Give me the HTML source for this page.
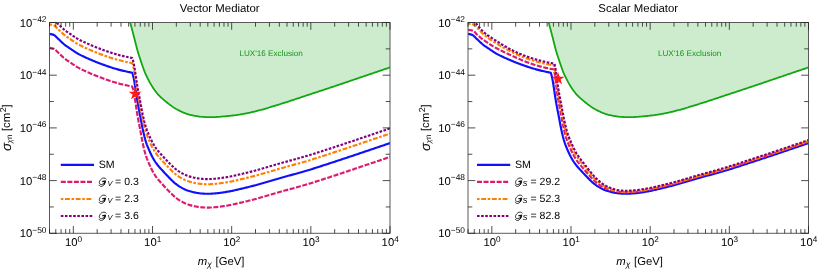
<!DOCTYPE html>
<html><head><meta charset="utf-8"><title>plot</title>
<style>html,body{margin:0;padding:0;background:#fff;}svg{display:block;will-change:transform;text-rendering:geometricPrecision;}</style>
</head><body>
<svg width="830" height="270" viewBox="0 0 830 270">
<rect width="830" height="270" fill="#fff"/>
<defs>
<clipPath id="c1"><rect x="49.5" y="22.5" width="340.5" height="210.8"/></clipPath>
<clipPath id="c2"><rect x="468.0" y="22.5" width="340.5" height="210.8"/></clipPath>
</defs>
<g font-family="Liberation Sans, sans-serif" fill="#000">
<g clip-path="url(#c1)">
<path d="M130.20,22.40 L131.07,25.71 L131.94,29.04 L132.81,32.37 L133.68,35.71 L134.54,39.06 L135.41,42.51 L136.28,46.00 L137.15,49.34 L138.02,52.38 L138.89,55.17 L139.76,57.81 L140.63,60.37 L141.50,62.94 L142.36,65.49 L143.23,67.97 L144.10,70.33 L144.97,72.53 L145.84,74.53 L146.71,76.42 L147.58,78.23 L148.45,79.95 L149.32,81.59 L150.18,83.15 L151.05,84.63 L151.92,86.04 L152.79,87.40 L153.66,88.71 L154.53,89.96 L155.40,91.15 L156.27,92.28 L157.14,93.34 L158.00,94.34 L158.87,95.29 L159.74,96.19 L160.61,97.04 L161.48,97.86 L162.35,98.65 L163.22,99.40 L164.09,100.14 L164.96,100.86 L165.82,101.57 L166.69,102.28 L167.56,102.98 L168.43,103.66 L169.30,104.34 L170.17,105.00 L171.04,105.64 L171.91,106.27 L172.78,106.87 L173.64,107.46 L174.51,108.02 L175.38,108.56 L176.25,109.07 L177.12,109.55 L177.99,110.00 L178.86,110.43 L179.73,110.86 L180.60,111.28 L181.46,111.69 L182.33,112.08 L183.20,112.46 L184.07,112.83 L184.94,113.18 L185.81,113.51 L186.68,113.82 L187.55,114.11 L188.42,114.38 L189.28,114.63 L190.15,114.84 L191.02,115.04 L191.89,115.23 L192.76,115.42 L193.63,115.59 L194.50,115.77 L195.37,115.93 L196.24,116.08 L197.11,116.23 L197.97,116.36 L198.84,116.49 L199.71,116.60 L200.58,116.70 L201.45,116.78 L202.32,116.85 L203.19,116.91 L204.06,116.96 L204.93,117.01 L205.79,117.06 L206.66,117.10 L207.53,117.14 L208.40,117.17 L209.27,117.19 L210.14,117.20 L211.01,117.20 L211.88,117.19 L212.75,117.17 L213.61,117.14 L214.48,117.11 L215.35,117.07 L216.22,117.02 L217.09,116.97 L217.96,116.91 L218.83,116.84 L219.70,116.78 L220.57,116.70 L221.43,116.63 L222.30,116.55 L223.17,116.47 L224.04,116.39 L224.91,116.31 L225.78,116.23 L226.65,116.14 L227.52,116.06 L228.39,115.98 L229.25,115.90 L230.12,115.81 L230.99,115.71 L231.86,115.61 L232.73,115.51 L233.60,115.40 L234.47,115.28 L235.34,115.17 L236.21,115.04 L237.07,114.92 L237.94,114.79 L238.81,114.65 L239.68,114.52 L240.55,114.38 L241.42,114.24 L242.29,114.09 L243.16,113.94 L244.03,113.80 L244.89,113.64 L245.76,113.48 L246.63,113.31 L247.50,113.14 L248.37,112.95 L249.24,112.77 L250.11,112.58 L250.98,112.38 L251.85,112.18 L252.71,111.97 L253.58,111.76 L254.45,111.55 L255.32,111.34 L256.19,111.13 L257.06,110.91 L257.93,110.69 L258.80,110.46 L259.67,110.23 L260.53,110.00 L261.40,109.76 L262.27,109.52 L263.14,109.28 L264.01,109.03 L264.88,108.78 L265.75,108.53 L266.62,108.27 L267.49,108.02 L268.35,107.76 L269.22,107.49 L270.09,107.23 L270.96,106.97 L271.83,106.70 L272.70,106.43 L273.57,106.16 L274.44,105.89 L275.31,105.62 L276.17,105.35 L277.04,105.08 L277.91,104.81 L278.78,104.54 L279.65,104.27 L280.52,104.00 L281.39,103.73 L282.26,103.46 L283.13,103.19 L283.99,102.91 L284.86,102.64 L285.73,102.36 L286.60,102.08 L287.47,101.80 L288.34,101.52 L289.21,101.24 L290.08,100.96 L290.95,100.67 L291.81,100.39 L292.68,100.10 L293.55,99.81 L294.42,99.52 L295.29,99.23 L296.16,98.94 L297.03,98.65 L297.90,98.36 L298.77,98.07 L299.63,97.78 L300.50,97.49 L301.37,97.20 L302.24,96.91 L303.11,96.62 L303.98,96.33 L304.85,96.04 L305.72,95.76 L306.59,95.47 L307.45,95.18 L308.32,94.89 L309.19,94.61 L310.06,94.32 L310.93,94.04 L311.80,93.75 L312.67,93.46 L313.54,93.18 L314.41,92.89 L315.27,92.61 L316.14,92.32 L317.01,92.03 L317.88,91.75 L318.75,91.46 L319.62,91.18 L320.49,90.89 L321.36,90.60 L322.23,90.31 L323.09,90.03 L323.96,89.74 L324.83,89.45 L325.70,89.16 L326.57,88.88 L327.44,88.59 L328.31,88.30 L329.18,88.01 L330.05,87.72 L330.92,87.43 L331.78,87.14 L332.65,86.85 L333.52,86.56 L334.39,86.27 L335.26,85.98 L336.13,85.68 L337.00,85.39 L337.87,85.10 L338.74,84.80 L339.60,84.51 L340.47,84.22 L341.34,83.92 L342.21,83.62 L343.08,83.33 L343.95,83.03 L344.82,82.74 L345.69,82.44 L346.56,82.15 L347.42,81.85 L348.29,81.55 L349.16,81.26 L350.03,80.96 L350.90,80.66 L351.77,80.37 L352.64,80.07 L353.51,79.77 L354.38,79.48 L355.24,79.18 L356.11,78.89 L356.98,78.59 L357.85,78.29 L358.72,78.00 L359.59,77.70 L360.46,77.41 L361.33,77.11 L362.20,76.82 L363.06,76.52 L363.93,76.23 L364.80,75.94 L365.67,75.64 L366.54,75.35 L367.41,75.05 L368.28,74.76 L369.15,74.46 L370.02,74.17 L370.88,73.87 L371.75,73.58 L372.62,73.28 L373.49,72.99 L374.36,72.70 L375.23,72.40 L376.10,72.11 L376.97,71.81 L377.84,71.52 L378.70,71.22 L379.57,70.93 L380.44,70.64 L381.31,70.34 L382.18,70.05 L383.05,69.75 L383.92,69.46 L384.79,69.16 L385.66,68.87 L386.52,68.58 L387.39,68.28 L388.26,67.99 L389.13,67.69 L390.00,67.40 L390.0,67.40 L390.0,22.5 L130.20,22.5 Z" fill="#cdeccd" stroke="none"/>
<path d="M130.20,22.40 L131.07,25.71 L131.94,29.04 L132.81,32.37 L133.68,35.71 L134.54,39.06 L135.41,42.51 L136.28,46.00 L137.15,49.34 L138.02,52.38 L138.89,55.17 L139.76,57.81 L140.63,60.37 L141.50,62.94 L142.36,65.49 L143.23,67.97 L144.10,70.33 L144.97,72.53 L145.84,74.53 L146.71,76.42 L147.58,78.23 L148.45,79.95 L149.32,81.59 L150.18,83.15 L151.05,84.63 L151.92,86.04 L152.79,87.40 L153.66,88.71 L154.53,89.96 L155.40,91.15 L156.27,92.28 L157.14,93.34 L158.00,94.34 L158.87,95.29 L159.74,96.19 L160.61,97.04 L161.48,97.86 L162.35,98.65 L163.22,99.40 L164.09,100.14 L164.96,100.86 L165.82,101.57 L166.69,102.28 L167.56,102.98 L168.43,103.66 L169.30,104.34 L170.17,105.00 L171.04,105.64 L171.91,106.27 L172.78,106.87 L173.64,107.46 L174.51,108.02 L175.38,108.56 L176.25,109.07 L177.12,109.55 L177.99,110.00 L178.86,110.43 L179.73,110.86 L180.60,111.28 L181.46,111.69 L182.33,112.08 L183.20,112.46 L184.07,112.83 L184.94,113.18 L185.81,113.51 L186.68,113.82 L187.55,114.11 L188.42,114.38 L189.28,114.63 L190.15,114.84 L191.02,115.04 L191.89,115.23 L192.76,115.42 L193.63,115.59 L194.50,115.77 L195.37,115.93 L196.24,116.08 L197.11,116.23 L197.97,116.36 L198.84,116.49 L199.71,116.60 L200.58,116.70 L201.45,116.78 L202.32,116.85 L203.19,116.91 L204.06,116.96 L204.93,117.01 L205.79,117.06 L206.66,117.10 L207.53,117.14 L208.40,117.17 L209.27,117.19 L210.14,117.20 L211.01,117.20 L211.88,117.19 L212.75,117.17 L213.61,117.14 L214.48,117.11 L215.35,117.07 L216.22,117.02 L217.09,116.97 L217.96,116.91 L218.83,116.84 L219.70,116.78 L220.57,116.70 L221.43,116.63 L222.30,116.55 L223.17,116.47 L224.04,116.39 L224.91,116.31 L225.78,116.23 L226.65,116.14 L227.52,116.06 L228.39,115.98 L229.25,115.90 L230.12,115.81 L230.99,115.71 L231.86,115.61 L232.73,115.51 L233.60,115.40 L234.47,115.28 L235.34,115.17 L236.21,115.04 L237.07,114.92 L237.94,114.79 L238.81,114.65 L239.68,114.52 L240.55,114.38 L241.42,114.24 L242.29,114.09 L243.16,113.94 L244.03,113.80 L244.89,113.64 L245.76,113.48 L246.63,113.31 L247.50,113.14 L248.37,112.95 L249.24,112.77 L250.11,112.58 L250.98,112.38 L251.85,112.18 L252.71,111.97 L253.58,111.76 L254.45,111.55 L255.32,111.34 L256.19,111.13 L257.06,110.91 L257.93,110.69 L258.80,110.46 L259.67,110.23 L260.53,110.00 L261.40,109.76 L262.27,109.52 L263.14,109.28 L264.01,109.03 L264.88,108.78 L265.75,108.53 L266.62,108.27 L267.49,108.02 L268.35,107.76 L269.22,107.49 L270.09,107.23 L270.96,106.97 L271.83,106.70 L272.70,106.43 L273.57,106.16 L274.44,105.89 L275.31,105.62 L276.17,105.35 L277.04,105.08 L277.91,104.81 L278.78,104.54 L279.65,104.27 L280.52,104.00 L281.39,103.73 L282.26,103.46 L283.13,103.19 L283.99,102.91 L284.86,102.64 L285.73,102.36 L286.60,102.08 L287.47,101.80 L288.34,101.52 L289.21,101.24 L290.08,100.96 L290.95,100.67 L291.81,100.39 L292.68,100.10 L293.55,99.81 L294.42,99.52 L295.29,99.23 L296.16,98.94 L297.03,98.65 L297.90,98.36 L298.77,98.07 L299.63,97.78 L300.50,97.49 L301.37,97.20 L302.24,96.91 L303.11,96.62 L303.98,96.33 L304.85,96.04 L305.72,95.76 L306.59,95.47 L307.45,95.18 L308.32,94.89 L309.19,94.61 L310.06,94.32 L310.93,94.04 L311.80,93.75 L312.67,93.46 L313.54,93.18 L314.41,92.89 L315.27,92.61 L316.14,92.32 L317.01,92.03 L317.88,91.75 L318.75,91.46 L319.62,91.18 L320.49,90.89 L321.36,90.60 L322.23,90.31 L323.09,90.03 L323.96,89.74 L324.83,89.45 L325.70,89.16 L326.57,88.88 L327.44,88.59 L328.31,88.30 L329.18,88.01 L330.05,87.72 L330.92,87.43 L331.78,87.14 L332.65,86.85 L333.52,86.56 L334.39,86.27 L335.26,85.98 L336.13,85.68 L337.00,85.39 L337.87,85.10 L338.74,84.80 L339.60,84.51 L340.47,84.22 L341.34,83.92 L342.21,83.62 L343.08,83.33 L343.95,83.03 L344.82,82.74 L345.69,82.44 L346.56,82.15 L347.42,81.85 L348.29,81.55 L349.16,81.26 L350.03,80.96 L350.90,80.66 L351.77,80.37 L352.64,80.07 L353.51,79.77 L354.38,79.48 L355.24,79.18 L356.11,78.89 L356.98,78.59 L357.85,78.29 L358.72,78.00 L359.59,77.70 L360.46,77.41 L361.33,77.11 L362.20,76.82 L363.06,76.52 L363.93,76.23 L364.80,75.94 L365.67,75.64 L366.54,75.35 L367.41,75.05 L368.28,74.76 L369.15,74.46 L370.02,74.17 L370.88,73.87 L371.75,73.58 L372.62,73.28 L373.49,72.99 L374.36,72.70 L375.23,72.40 L376.10,72.11 L376.97,71.81 L377.84,71.52 L378.70,71.22 L379.57,70.93 L380.44,70.64 L381.31,70.34 L382.18,70.05 L383.05,69.75 L383.92,69.46 L384.79,69.16 L385.66,68.87 L386.52,68.58 L387.39,68.28 L388.26,67.99 L389.13,67.69 L390.00,67.40" fill="none" stroke="#12a612" stroke-width="1.8"/>
<path d="M49.50,33.90 L52.00,34.40 L53.80,34.90 L54.60,35.40 L55.58,36.23 L56.57,37.14 L57.55,38.15 L58.53,39.14 L59.52,40.08 L60.50,41.01 L61.48,41.94 L62.47,42.84 L63.45,43.70 L64.44,44.53 L65.42,45.30 L66.40,46.03 L67.39,46.73 L68.37,47.41 L69.35,48.07 L70.34,48.72 L71.32,49.38 L72.30,50.05 L73.29,50.72 L74.27,51.39 L75.25,52.04 L76.24,52.67 L77.22,53.27 L78.21,53.82 L79.19,54.36 L80.17,54.88 L81.16,55.38 L82.14,55.86 L83.12,56.34 L84.11,56.80 L85.09,57.26 L86.07,57.70 L87.06,58.14 L88.04,58.57 L89.02,59.00 L90.01,59.43 L90.99,59.85 L91.97,60.27 L92.96,60.69 L93.94,61.10 L94.93,61.50 L95.91,61.90 L96.89,62.29 L97.88,62.67 L98.86,63.05 L99.84,63.43 L100.83,63.80 L101.81,64.17 L102.79,64.53 L103.78,64.88 L104.76,65.23 L105.74,65.58 L106.73,65.93 L107.71,66.27 L108.69,66.61 L109.68,66.95 L110.66,67.27 L111.65,67.59 L112.63,67.91 L113.61,68.21 L114.60,68.51 L115.58,68.79 L116.56,69.07 L117.55,69.35 L118.53,69.61 L119.51,69.87 L120.50,70.12 L121.48,70.37 L122.46,70.61 L123.45,70.84 L124.43,71.07 L125.42,71.29 L126.40,71.51 L127.38,71.72 L128.37,71.93 L129.35,72.13 L130.33,72.33 L131.32,72.52 L132.30,72.70 L133.16,75.69 L134.02,79.62 L134.89,84.77 L135.75,90.45 L136.61,96.27 L137.47,101.58 L138.33,106.33 L139.19,110.81 L140.06,115.23 L140.92,119.81 L141.78,124.45 L142.64,128.83 L143.50,132.74 L144.37,136.36 L145.23,139.59 L146.09,142.34 L146.95,144.78 L147.81,147.00 L148.68,149.08 L149.54,151.08 L150.40,152.99 L151.26,154.80 L152.12,156.50 L152.98,158.10 L153.85,159.58 L154.71,160.97 L155.57,162.28 L156.43,163.50 L157.29,164.65 L158.16,165.72 L159.02,166.74 L159.88,167.71 L160.74,168.66 L161.60,169.61 L162.47,170.55 L163.33,171.50 L164.19,172.45 L165.05,173.39 L165.91,174.31 L166.77,175.22 L167.64,176.12 L168.50,177.00 L169.36,177.87 L170.22,178.75 L171.08,179.62 L171.95,180.47 L172.81,181.30 L173.67,182.10 L174.53,182.85 L175.39,183.55 L176.26,184.22 L177.12,184.87 L177.98,185.49 L178.84,186.08 L179.70,186.64 L180.56,187.17 L181.43,187.66 L182.29,188.13 L183.15,188.58 L184.01,189.01 L184.87,189.42 L185.74,189.80 L186.60,190.16 L187.46,190.48 L188.32,190.78 L189.18,191.05 L190.05,191.32 L190.91,191.57 L191.77,191.80 L192.63,192.02 L193.49,192.23 L194.35,192.41 L195.22,192.58 L196.08,192.74 L196.94,192.90 L197.80,193.04 L198.66,193.18 L199.53,193.30 L200.39,193.40 L201.25,193.48 L202.11,193.55 L202.97,193.61 L203.84,193.67 L204.70,193.72 L205.56,193.76 L206.42,193.79 L207.28,193.80 L208.14,193.80 L209.01,193.78 L209.87,193.75 L210.73,193.70 L211.59,193.65 L212.45,193.60 L213.32,193.54 L214.18,193.49 L215.04,193.42 L215.90,193.35 L216.76,193.27 L217.63,193.18 L218.49,193.08 L219.35,192.97 L220.21,192.85 L221.07,192.73 L221.93,192.61 L222.80,192.48 L223.66,192.34 L224.52,192.21 L225.38,192.07 L226.24,191.92 L227.11,191.78 L227.97,191.64 L228.83,191.49 L229.69,191.34 L230.55,191.18 L231.42,191.01 L232.28,190.83 L233.14,190.65 L234.00,190.46 L234.86,190.27 L235.72,190.07 L236.59,189.87 L237.45,189.67 L238.31,189.47 L239.17,189.26 L240.03,189.05 L240.90,188.84 L241.76,188.64 L242.62,188.43 L243.48,188.22 L244.34,188.02 L245.21,187.81 L246.07,187.61 L246.93,187.40 L247.79,187.19 L248.65,186.98 L249.51,186.76 L250.38,186.55 L251.24,186.33 L252.10,186.11 L252.96,185.89 L253.82,185.66 L254.69,185.44 L255.55,185.21 L256.41,184.98 L257.27,184.74 L258.13,184.50 L259.00,184.26 L259.86,184.02 L260.72,183.78 L261.58,183.53 L262.44,183.28 L263.30,183.03 L264.17,182.78 L265.03,182.53 L265.89,182.27 L266.75,182.02 L267.61,181.76 L268.48,181.50 L269.34,181.25 L270.20,180.99 L271.06,180.73 L271.92,180.48 L272.79,180.22 L273.65,179.97 L274.51,179.71 L275.37,179.46 L276.23,179.20 L277.09,178.95 L277.96,178.70 L278.82,178.45 L279.68,178.20 L280.54,177.96 L281.40,177.72 L282.27,177.47 L283.13,177.23 L283.99,177.00 L284.85,176.76 L285.71,176.52 L286.58,176.29 L287.44,176.05 L288.30,175.82 L289.16,175.58 L290.02,175.35 L290.88,175.11 L291.75,174.88 L292.61,174.65 L293.47,174.41 L294.33,174.18 L295.19,173.94 L296.06,173.71 L296.92,173.47 L297.78,173.23 L298.64,172.99 L299.50,172.75 L300.37,172.51 L301.23,172.27 L302.09,172.02 L302.95,171.77 L303.81,171.52 L304.67,171.27 L305.54,171.02 L306.40,170.76 L307.26,170.50 L308.12,170.24 L308.98,169.98 L309.85,169.71 L310.71,169.45 L311.57,169.18 L312.43,168.91 L313.29,168.63 L314.16,168.36 L315.02,168.09 L315.88,167.81 L316.74,167.53 L317.60,167.26 L318.46,166.98 L319.33,166.70 L320.19,166.42 L321.05,166.14 L321.91,165.86 L322.77,165.58 L323.64,165.31 L324.50,165.03 L325.36,164.75 L326.22,164.47 L327.08,164.19 L327.95,163.91 L328.81,163.63 L329.67,163.35 L330.53,163.07 L331.39,162.79 L332.25,162.51 L333.12,162.23 L333.98,161.94 L334.84,161.66 L335.70,161.38 L336.56,161.09 L337.43,160.81 L338.29,160.52 L339.15,160.24 L340.01,159.95 L340.87,159.67 L341.74,159.38 L342.60,159.10 L343.46,158.81 L344.32,158.52 L345.18,158.24 L346.04,157.95 L346.91,157.66 L347.77,157.38 L348.63,157.09 L349.49,156.80 L350.35,156.52 L351.22,156.23 L352.08,155.94 L352.94,155.65 L353.80,155.36 L354.66,155.07 L355.53,154.79 L356.39,154.50 L357.25,154.21 L358.11,153.92 L358.97,153.63 L359.83,153.34 L360.70,153.05 L361.56,152.75 L362.42,152.46 L363.28,152.17 L364.14,151.88 L365.01,151.59 L365.87,151.30 L366.73,151.01 L367.59,150.71 L368.45,150.42 L369.32,150.13 L370.18,149.84 L371.04,149.55 L371.90,149.25 L372.76,148.96 L373.62,148.67 L374.49,148.38 L375.35,148.09 L376.21,147.79 L377.07,147.50 L377.93,147.21 L378.80,146.92 L379.66,146.62 L380.52,146.33 L381.38,146.04 L382.24,145.74 L383.11,145.45 L383.97,145.16 L384.83,144.86 L385.69,144.57 L386.55,144.28 L387.41,143.98 L388.28,143.69 L389.14,143.39 L390.00,143.10" fill="none" stroke="#1010fb" stroke-width="2.15" stroke-linejoin="round"/>
<path d="M49.50,47.70 L52.00,48.20 L53.80,48.70 L54.60,49.20 L55.58,50.03 L56.57,50.94 L57.55,51.95 L58.53,52.94 L59.52,53.88 L60.50,54.81 L61.48,55.74 L62.47,56.64 L63.45,57.50 L64.44,58.33 L65.42,59.10 L66.40,59.83 L67.39,60.53 L68.37,61.21 L69.35,61.87 L70.34,62.52 L71.32,63.18 L72.30,63.85 L73.29,64.52 L74.27,65.19 L75.25,65.84 L76.24,66.47 L77.22,67.07 L78.21,67.62 L79.19,68.16 L80.17,68.68 L81.16,69.18 L82.14,69.66 L83.12,70.14 L84.11,70.60 L85.09,71.06 L86.07,71.50 L87.06,71.94 L88.04,72.37 L89.02,72.80 L90.01,73.23 L90.99,73.65 L91.97,74.07 L92.96,74.49 L93.94,74.90 L94.93,75.30 L95.91,75.70 L96.89,76.09 L97.88,76.47 L98.86,76.85 L99.84,77.23 L100.83,77.60 L101.81,77.97 L102.79,78.33 L103.78,78.68 L104.76,79.03 L105.74,79.38 L106.73,79.73 L107.71,80.07 L108.69,80.41 L109.68,80.75 L110.66,81.07 L111.65,81.39 L112.63,81.71 L113.61,82.01 L114.60,82.31 L115.58,82.59 L116.56,82.87 L117.55,83.15 L118.53,83.41 L119.51,83.67 L120.50,83.92 L121.48,84.17 L122.46,84.41 L123.45,84.64 L124.43,84.87 L125.42,85.09 L126.40,85.31 L127.38,85.52 L128.37,85.73 L129.35,85.93 L130.33,86.13 L131.32,86.32 L132.30,86.50 L133.16,89.49 L134.02,93.42 L134.89,98.57 L135.75,104.25 L136.61,110.07 L137.47,115.38 L138.33,120.13 L139.19,124.61 L140.06,129.03 L140.92,133.61 L141.78,138.25 L142.64,142.63 L143.50,146.54 L144.37,150.16 L145.23,153.39 L146.09,156.14 L146.95,158.58 L147.81,160.80 L148.68,162.88 L149.54,164.88 L150.40,166.79 L151.26,168.60 L152.12,170.30 L152.98,171.90 L153.85,173.38 L154.71,174.77 L155.57,176.08 L156.43,177.30 L157.29,178.45 L158.16,179.52 L159.02,180.54 L159.88,181.51 L160.74,182.46 L161.60,183.41 L162.47,184.35 L163.33,185.30 L164.19,186.25 L165.05,187.19 L165.91,188.11 L166.77,189.02 L167.64,189.92 L168.50,190.80 L169.36,191.67 L170.22,192.55 L171.08,193.42 L171.95,194.27 L172.81,195.10 L173.67,195.90 L174.53,196.65 L175.39,197.35 L176.26,198.02 L177.12,198.67 L177.98,199.29 L178.84,199.88 L179.70,200.44 L180.56,200.97 L181.43,201.46 L182.29,201.93 L183.15,202.38 L184.01,202.81 L184.87,203.22 L185.74,203.60 L186.60,203.96 L187.46,204.28 L188.32,204.58 L189.18,204.85 L190.05,205.12 L190.91,205.37 L191.77,205.60 L192.63,205.82 L193.49,206.03 L194.35,206.21 L195.22,206.38 L196.08,206.54 L196.94,206.70 L197.80,206.84 L198.66,206.98 L199.53,207.10 L200.39,207.20 L201.25,207.28 L202.11,207.35 L202.97,207.41 L203.84,207.47 L204.70,207.52 L205.56,207.56 L206.42,207.59 L207.28,207.60 L208.14,207.60 L209.01,207.58 L209.87,207.55 L210.73,207.50 L211.59,207.45 L212.45,207.40 L213.32,207.34 L214.18,207.29 L215.04,207.22 L215.90,207.15 L216.76,207.07 L217.63,206.98 L218.49,206.88 L219.35,206.77 L220.21,206.65 L221.07,206.53 L221.93,206.41 L222.80,206.28 L223.66,206.14 L224.52,206.01 L225.38,205.87 L226.24,205.72 L227.11,205.58 L227.97,205.44 L228.83,205.29 L229.69,205.14 L230.55,204.98 L231.42,204.81 L232.28,204.63 L233.14,204.45 L234.00,204.26 L234.86,204.07 L235.72,203.87 L236.59,203.67 L237.45,203.47 L238.31,203.27 L239.17,203.06 L240.03,202.85 L240.90,202.64 L241.76,202.44 L242.62,202.23 L243.48,202.02 L244.34,201.82 L245.21,201.61 L246.07,201.41 L246.93,201.20 L247.79,200.99 L248.65,200.78 L249.51,200.56 L250.38,200.35 L251.24,200.13 L252.10,199.91 L252.96,199.69 L253.82,199.46 L254.69,199.24 L255.55,199.01 L256.41,198.78 L257.27,198.54 L258.13,198.30 L259.00,198.06 L259.86,197.82 L260.72,197.58 L261.58,197.33 L262.44,197.08 L263.30,196.83 L264.17,196.58 L265.03,196.33 L265.89,196.07 L266.75,195.82 L267.61,195.56 L268.48,195.30 L269.34,195.05 L270.20,194.79 L271.06,194.53 L271.92,194.28 L272.79,194.02 L273.65,193.77 L274.51,193.51 L275.37,193.26 L276.23,193.00 L277.09,192.75 L277.96,192.50 L278.82,192.25 L279.68,192.00 L280.54,191.76 L281.40,191.52 L282.27,191.27 L283.13,191.03 L283.99,190.80 L284.85,190.56 L285.71,190.32 L286.58,190.09 L287.44,189.85 L288.30,189.62 L289.16,189.38 L290.02,189.15 L290.88,188.91 L291.75,188.68 L292.61,188.45 L293.47,188.21 L294.33,187.98 L295.19,187.74 L296.06,187.51 L296.92,187.27 L297.78,187.03 L298.64,186.79 L299.50,186.55 L300.37,186.31 L301.23,186.07 L302.09,185.82 L302.95,185.57 L303.81,185.32 L304.67,185.07 L305.54,184.82 L306.40,184.56 L307.26,184.30 L308.12,184.04 L308.98,183.78 L309.85,183.51 L310.71,183.25 L311.57,182.98 L312.43,182.71 L313.29,182.43 L314.16,182.16 L315.02,181.89 L315.88,181.61 L316.74,181.33 L317.60,181.06 L318.46,180.78 L319.33,180.50 L320.19,180.22 L321.05,179.94 L321.91,179.66 L322.77,179.38 L323.64,179.11 L324.50,178.83 L325.36,178.55 L326.22,178.27 L327.08,177.99 L327.95,177.71 L328.81,177.43 L329.67,177.15 L330.53,176.87 L331.39,176.59 L332.25,176.31 L333.12,176.03 L333.98,175.74 L334.84,175.46 L335.70,175.18 L336.56,174.89 L337.43,174.61 L338.29,174.32 L339.15,174.04 L340.01,173.75 L340.87,173.47 L341.74,173.18 L342.60,172.90 L343.46,172.61 L344.32,172.32 L345.18,172.04 L346.04,171.75 L346.91,171.46 L347.77,171.18 L348.63,170.89 L349.49,170.60 L350.35,170.32 L351.22,170.03 L352.08,169.74 L352.94,169.45 L353.80,169.16 L354.66,168.87 L355.53,168.59 L356.39,168.30 L357.25,168.01 L358.11,167.72 L358.97,167.43 L359.83,167.14 L360.70,166.85 L361.56,166.55 L362.42,166.26 L363.28,165.97 L364.14,165.68 L365.01,165.39 L365.87,165.10 L366.73,164.81 L367.59,164.51 L368.45,164.22 L369.32,163.93 L370.18,163.64 L371.04,163.35 L371.90,163.05 L372.76,162.76 L373.62,162.47 L374.49,162.18 L375.35,161.89 L376.21,161.59 L377.07,161.30 L377.93,161.01 L378.80,160.72 L379.66,160.42 L380.52,160.13 L381.38,159.84 L382.24,159.54 L383.11,159.25 L383.97,158.96 L384.83,158.66 L385.69,158.37 L386.55,158.08 L387.41,157.78 L388.28,157.49 L389.14,157.19 L390.00,156.90" fill="none" stroke="#dc1a6e" stroke-width="2.15" stroke-dasharray="5.0 1.55" stroke-linejoin="round"/>
<path d="M49.50,24.35 L52.00,24.85 L53.80,25.35 L54.60,25.85 L55.58,26.68 L56.57,27.59 L57.55,28.60 L58.53,29.59 L59.52,30.53 L60.50,31.46 L61.48,32.39 L62.47,33.29 L63.45,34.15 L64.44,34.98 L65.42,35.75 L66.40,36.48 L67.39,37.18 L68.37,37.86 L69.35,38.52 L70.34,39.17 L71.32,39.83 L72.30,40.50 L73.29,41.17 L74.27,41.84 L75.25,42.49 L76.24,43.12 L77.22,43.72 L78.21,44.27 L79.19,44.81 L80.17,45.33 L81.16,45.83 L82.14,46.31 L83.12,46.79 L84.11,47.25 L85.09,47.71 L86.07,48.15 L87.06,48.59 L88.04,49.02 L89.02,49.45 L90.01,49.88 L90.99,50.30 L91.97,50.72 L92.96,51.14 L93.94,51.55 L94.93,51.95 L95.91,52.35 L96.89,52.74 L97.88,53.12 L98.86,53.50 L99.84,53.88 L100.83,54.25 L101.81,54.62 L102.79,54.98 L103.78,55.33 L104.76,55.68 L105.74,56.03 L106.73,56.38 L107.71,56.72 L108.69,57.06 L109.68,57.40 L110.66,57.72 L111.65,58.04 L112.63,58.36 L113.61,58.66 L114.60,58.96 L115.58,59.24 L116.56,59.52 L117.55,59.80 L118.53,60.06 L119.51,60.32 L120.50,60.57 L121.48,60.82 L122.46,61.06 L123.45,61.29 L124.43,61.52 L125.42,61.74 L126.40,61.96 L127.38,62.17 L128.37,62.38 L129.35,62.58 L130.33,62.78 L131.32,62.97 L132.30,63.15 L133.16,66.14 L134.02,70.07 L134.89,75.22 L135.75,80.90 L136.61,86.72 L137.47,92.03 L138.33,96.78 L139.19,101.26 L140.06,105.68 L140.92,110.26 L141.78,114.90 L142.64,119.28 L143.50,123.19 L144.37,126.81 L145.23,130.04 L146.09,132.79 L146.95,135.23 L147.81,137.45 L148.68,139.53 L149.54,141.53 L150.40,143.44 L151.26,145.25 L152.12,146.95 L152.98,148.55 L153.85,150.03 L154.71,151.42 L155.57,152.73 L156.43,153.95 L157.29,155.10 L158.16,156.17 L159.02,157.19 L159.88,158.16 L160.74,159.11 L161.60,160.06 L162.47,161.00 L163.33,161.95 L164.19,162.90 L165.05,163.84 L165.91,164.76 L166.77,165.67 L167.64,166.57 L168.50,167.45 L169.36,168.32 L170.22,169.20 L171.08,170.07 L171.95,170.92 L172.81,171.75 L173.67,172.55 L174.53,173.30 L175.39,174.00 L176.26,174.67 L177.12,175.32 L177.98,175.94 L178.84,176.53 L179.70,177.09 L180.56,177.62 L181.43,178.11 L182.29,178.58 L183.15,179.03 L184.01,179.46 L184.87,179.87 L185.74,180.25 L186.60,180.61 L187.46,180.93 L188.32,181.23 L189.18,181.50 L190.05,181.77 L190.91,182.02 L191.77,182.25 L192.63,182.47 L193.49,182.68 L194.35,182.86 L195.22,183.03 L196.08,183.19 L196.94,183.35 L197.80,183.49 L198.66,183.63 L199.53,183.75 L200.39,183.85 L201.25,183.93 L202.11,184.00 L202.97,184.06 L203.84,184.12 L204.70,184.17 L205.56,184.21 L206.42,184.24 L207.28,184.25 L208.14,184.25 L209.01,184.23 L209.87,184.20 L210.73,184.15 L211.59,184.10 L212.45,184.05 L213.32,183.99 L214.18,183.94 L215.04,183.87 L215.90,183.80 L216.76,183.72 L217.63,183.63 L218.49,183.53 L219.35,183.42 L220.21,183.30 L221.07,183.18 L221.93,183.06 L222.80,182.93 L223.66,182.79 L224.52,182.66 L225.38,182.52 L226.24,182.37 L227.11,182.23 L227.97,182.09 L228.83,181.94 L229.69,181.79 L230.55,181.63 L231.42,181.46 L232.28,181.28 L233.14,181.10 L234.00,180.91 L234.86,180.72 L235.72,180.52 L236.59,180.32 L237.45,180.12 L238.31,179.92 L239.17,179.71 L240.03,179.50 L240.90,179.29 L241.76,179.09 L242.62,178.88 L243.48,178.67 L244.34,178.47 L245.21,178.26 L246.07,178.06 L246.93,177.85 L247.79,177.64 L248.65,177.43 L249.51,177.21 L250.38,177.00 L251.24,176.78 L252.10,176.56 L252.96,176.34 L253.82,176.11 L254.69,175.89 L255.55,175.66 L256.41,175.43 L257.27,175.19 L258.13,174.95 L259.00,174.71 L259.86,174.47 L260.72,174.23 L261.58,173.98 L262.44,173.73 L263.30,173.48 L264.17,173.23 L265.03,172.98 L265.89,172.72 L266.75,172.47 L267.61,172.21 L268.48,171.95 L269.34,171.70 L270.20,171.44 L271.06,171.18 L271.92,170.93 L272.79,170.67 L273.65,170.42 L274.51,170.16 L275.37,169.91 L276.23,169.65 L277.09,169.40 L277.96,169.15 L278.82,168.90 L279.68,168.65 L280.54,168.41 L281.40,168.17 L282.27,167.92 L283.13,167.68 L283.99,167.45 L284.85,167.21 L285.71,166.97 L286.58,166.74 L287.44,166.50 L288.30,166.27 L289.16,166.03 L290.02,165.80 L290.88,165.56 L291.75,165.33 L292.61,165.10 L293.47,164.86 L294.33,164.63 L295.19,164.39 L296.06,164.16 L296.92,163.92 L297.78,163.68 L298.64,163.44 L299.50,163.20 L300.37,162.96 L301.23,162.72 L302.09,162.47 L302.95,162.22 L303.81,161.97 L304.67,161.72 L305.54,161.47 L306.40,161.21 L307.26,160.95 L308.12,160.69 L308.98,160.43 L309.85,160.16 L310.71,159.90 L311.57,159.63 L312.43,159.36 L313.29,159.08 L314.16,158.81 L315.02,158.54 L315.88,158.26 L316.74,157.98 L317.60,157.71 L318.46,157.43 L319.33,157.15 L320.19,156.87 L321.05,156.59 L321.91,156.31 L322.77,156.03 L323.64,155.76 L324.50,155.48 L325.36,155.20 L326.22,154.92 L327.08,154.64 L327.95,154.36 L328.81,154.08 L329.67,153.80 L330.53,153.52 L331.39,153.24 L332.25,152.96 L333.12,152.68 L333.98,152.39 L334.84,152.11 L335.70,151.83 L336.56,151.54 L337.43,151.26 L338.29,150.97 L339.15,150.69 L340.01,150.40 L340.87,150.12 L341.74,149.83 L342.60,149.55 L343.46,149.26 L344.32,148.97 L345.18,148.69 L346.04,148.40 L346.91,148.11 L347.77,147.83 L348.63,147.54 L349.49,147.25 L350.35,146.97 L351.22,146.68 L352.08,146.39 L352.94,146.10 L353.80,145.81 L354.66,145.52 L355.53,145.24 L356.39,144.95 L357.25,144.66 L358.11,144.37 L358.97,144.08 L359.83,143.79 L360.70,143.50 L361.56,143.20 L362.42,142.91 L363.28,142.62 L364.14,142.33 L365.01,142.04 L365.87,141.75 L366.73,141.46 L367.59,141.16 L368.45,140.87 L369.32,140.58 L370.18,140.29 L371.04,140.00 L371.90,139.70 L372.76,139.41 L373.62,139.12 L374.49,138.83 L375.35,138.54 L376.21,138.24 L377.07,137.95 L377.93,137.66 L378.80,137.37 L379.66,137.07 L380.52,136.78 L381.38,136.49 L382.24,136.19 L383.11,135.90 L383.97,135.61 L384.83,135.31 L385.69,135.02 L386.55,134.73 L387.41,134.43 L388.28,134.14 L389.14,133.84 L390.00,133.55" fill="none" stroke="#ff8000" stroke-width="2.15" stroke-dasharray="2.6 1.6 4.9 1.6" stroke-linejoin="round"/>
<path d="M49.50,19.20 L52.00,19.70 L53.80,20.20 L54.60,20.70 L55.58,21.53 L56.57,22.44 L57.55,23.45 L58.53,24.44 L59.52,25.38 L60.50,26.31 L61.48,27.24 L62.47,28.14 L63.45,29.00 L64.44,29.83 L65.42,30.60 L66.40,31.33 L67.39,32.03 L68.37,32.71 L69.35,33.37 L70.34,34.02 L71.32,34.68 L72.30,35.35 L73.29,36.02 L74.27,36.69 L75.25,37.34 L76.24,37.97 L77.22,38.57 L78.21,39.12 L79.19,39.66 L80.17,40.18 L81.16,40.68 L82.14,41.16 L83.12,41.64 L84.11,42.10 L85.09,42.56 L86.07,43.00 L87.06,43.44 L88.04,43.87 L89.02,44.30 L90.01,44.73 L90.99,45.15 L91.97,45.57 L92.96,45.99 L93.94,46.40 L94.93,46.80 L95.91,47.20 L96.89,47.59 L97.88,47.97 L98.86,48.35 L99.84,48.73 L100.83,49.10 L101.81,49.47 L102.79,49.83 L103.78,50.18 L104.76,50.53 L105.74,50.88 L106.73,51.23 L107.71,51.57 L108.69,51.91 L109.68,52.25 L110.66,52.57 L111.65,52.89 L112.63,53.21 L113.61,53.51 L114.60,53.81 L115.58,54.09 L116.56,54.37 L117.55,54.65 L118.53,54.91 L119.51,55.17 L120.50,55.42 L121.48,55.67 L122.46,55.91 L123.45,56.14 L124.43,56.37 L125.42,56.59 L126.40,56.81 L127.38,57.02 L128.37,57.23 L129.35,57.43 L130.33,57.63 L131.32,57.82 L132.30,58.00 L133.16,60.99 L134.02,64.92 L134.89,70.07 L135.75,75.75 L136.61,81.57 L137.47,86.88 L138.33,91.63 L139.19,96.11 L140.06,100.53 L140.92,105.11 L141.78,109.75 L142.64,114.13 L143.50,118.04 L144.37,121.66 L145.23,124.89 L146.09,127.64 L146.95,130.08 L147.81,132.30 L148.68,134.38 L149.54,136.38 L150.40,138.29 L151.26,140.10 L152.12,141.80 L152.98,143.40 L153.85,144.88 L154.71,146.27 L155.57,147.58 L156.43,148.80 L157.29,149.95 L158.16,151.02 L159.02,152.04 L159.88,153.01 L160.74,153.96 L161.60,154.91 L162.47,155.85 L163.33,156.80 L164.19,157.75 L165.05,158.69 L165.91,159.61 L166.77,160.52 L167.64,161.42 L168.50,162.30 L169.36,163.17 L170.22,164.05 L171.08,164.92 L171.95,165.77 L172.81,166.60 L173.67,167.40 L174.53,168.15 L175.39,168.85 L176.26,169.52 L177.12,170.17 L177.98,170.79 L178.84,171.38 L179.70,171.94 L180.56,172.47 L181.43,172.96 L182.29,173.43 L183.15,173.88 L184.01,174.31 L184.87,174.72 L185.74,175.10 L186.60,175.46 L187.46,175.78 L188.32,176.08 L189.18,176.35 L190.05,176.62 L190.91,176.87 L191.77,177.10 L192.63,177.32 L193.49,177.53 L194.35,177.71 L195.22,177.88 L196.08,178.04 L196.94,178.20 L197.80,178.34 L198.66,178.48 L199.53,178.60 L200.39,178.70 L201.25,178.78 L202.11,178.85 L202.97,178.91 L203.84,178.97 L204.70,179.02 L205.56,179.06 L206.42,179.09 L207.28,179.10 L208.14,179.10 L209.01,179.08 L209.87,179.05 L210.73,179.00 L211.59,178.95 L212.45,178.90 L213.32,178.84 L214.18,178.79 L215.04,178.72 L215.90,178.65 L216.76,178.57 L217.63,178.48 L218.49,178.38 L219.35,178.27 L220.21,178.15 L221.07,178.03 L221.93,177.91 L222.80,177.78 L223.66,177.64 L224.52,177.51 L225.38,177.37 L226.24,177.22 L227.11,177.08 L227.97,176.94 L228.83,176.79 L229.69,176.64 L230.55,176.48 L231.42,176.31 L232.28,176.13 L233.14,175.95 L234.00,175.76 L234.86,175.57 L235.72,175.37 L236.59,175.17 L237.45,174.97 L238.31,174.77 L239.17,174.56 L240.03,174.35 L240.90,174.14 L241.76,173.94 L242.62,173.73 L243.48,173.52 L244.34,173.32 L245.21,173.11 L246.07,172.91 L246.93,172.70 L247.79,172.49 L248.65,172.28 L249.51,172.06 L250.38,171.85 L251.24,171.63 L252.10,171.41 L252.96,171.19 L253.82,170.96 L254.69,170.74 L255.55,170.51 L256.41,170.28 L257.27,170.04 L258.13,169.80 L259.00,169.56 L259.86,169.32 L260.72,169.08 L261.58,168.83 L262.44,168.58 L263.30,168.33 L264.17,168.08 L265.03,167.83 L265.89,167.57 L266.75,167.32 L267.61,167.06 L268.48,166.80 L269.34,166.55 L270.20,166.29 L271.06,166.03 L271.92,165.78 L272.79,165.52 L273.65,165.27 L274.51,165.01 L275.37,164.76 L276.23,164.50 L277.09,164.25 L277.96,164.00 L278.82,163.75 L279.68,163.50 L280.54,163.26 L281.40,163.02 L282.27,162.77 L283.13,162.53 L283.99,162.30 L284.85,162.06 L285.71,161.82 L286.58,161.59 L287.44,161.35 L288.30,161.12 L289.16,160.88 L290.02,160.65 L290.88,160.41 L291.75,160.18 L292.61,159.95 L293.47,159.71 L294.33,159.48 L295.19,159.24 L296.06,159.01 L296.92,158.77 L297.78,158.53 L298.64,158.29 L299.50,158.05 L300.37,157.81 L301.23,157.57 L302.09,157.32 L302.95,157.07 L303.81,156.82 L304.67,156.57 L305.54,156.32 L306.40,156.06 L307.26,155.80 L308.12,155.54 L308.98,155.28 L309.85,155.01 L310.71,154.75 L311.57,154.48 L312.43,154.21 L313.29,153.93 L314.16,153.66 L315.02,153.39 L315.88,153.11 L316.74,152.83 L317.60,152.56 L318.46,152.28 L319.33,152.00 L320.19,151.72 L321.05,151.44 L321.91,151.16 L322.77,150.88 L323.64,150.61 L324.50,150.33 L325.36,150.05 L326.22,149.77 L327.08,149.49 L327.95,149.21 L328.81,148.93 L329.67,148.65 L330.53,148.37 L331.39,148.09 L332.25,147.81 L333.12,147.53 L333.98,147.24 L334.84,146.96 L335.70,146.68 L336.56,146.39 L337.43,146.11 L338.29,145.82 L339.15,145.54 L340.01,145.25 L340.87,144.97 L341.74,144.68 L342.60,144.40 L343.46,144.11 L344.32,143.82 L345.18,143.54 L346.04,143.25 L346.91,142.96 L347.77,142.68 L348.63,142.39 L349.49,142.10 L350.35,141.82 L351.22,141.53 L352.08,141.24 L352.94,140.95 L353.80,140.66 L354.66,140.37 L355.53,140.09 L356.39,139.80 L357.25,139.51 L358.11,139.22 L358.97,138.93 L359.83,138.64 L360.70,138.35 L361.56,138.05 L362.42,137.76 L363.28,137.47 L364.14,137.18 L365.01,136.89 L365.87,136.60 L366.73,136.31 L367.59,136.01 L368.45,135.72 L369.32,135.43 L370.18,135.14 L371.04,134.85 L371.90,134.55 L372.76,134.26 L373.62,133.97 L374.49,133.68 L375.35,133.39 L376.21,133.09 L377.07,132.80 L377.93,132.51 L378.80,132.22 L379.66,131.92 L380.52,131.63 L381.38,131.34 L382.24,131.04 L383.11,130.75 L383.97,130.46 L384.83,130.16 L385.69,129.87 L386.55,129.58 L387.41,129.28 L388.28,128.99 L389.14,128.69 L390.00,128.40" fill="none" stroke="#800080" stroke-width="2.15" stroke-dasharray="2.6 1.52" stroke-linejoin="round"/>
</g>
<polygon points="135.10,87.00 136.66,91.66 141.57,91.70 137.62,94.62 139.10,99.30 135.10,96.45 131.10,99.30 132.58,94.62 128.63,91.70 133.54,91.66" fill="#ff1a1a"/>
<rect x="49.5" y="22.5" width="340.5" height="210.8" fill="none" stroke="#5a5a5a" stroke-width="1"/>
<path d="M49.50,233.3 v-4.2 M49.50,22.5 v4.2 M55.77,233.3 v-4.2 M55.77,22.5 v4.2 M61.07,233.3 v-4.2 M61.07,22.5 v4.2 M65.66,233.3 v-4.2 M65.66,22.5 v4.2 M69.71,233.3 v-4.2 M69.71,22.5 v4.2 M73.33,233.3 v-7.3 M73.33,22.5 v7.3 M97.16,233.3 v-4.2 M97.16,22.5 v4.2 M111.10,233.3 v-4.2 M111.10,22.5 v4.2 M121.00,233.3 v-4.2 M121.00,22.5 v4.2 M128.67,233.3 v-4.2 M128.67,22.5 v4.2 M134.94,233.3 v-4.2 M134.94,22.5 v4.2 M140.24,233.3 v-4.2 M140.24,22.5 v4.2 M144.83,233.3 v-4.2 M144.83,22.5 v4.2 M148.88,233.3 v-4.2 M148.88,22.5 v4.2 M152.50,233.3 v-7.3 M152.50,22.5 v7.3 M176.33,233.3 v-4.2 M176.33,22.5 v4.2 M190.27,233.3 v-4.2 M190.27,22.5 v4.2 M200.16,233.3 v-4.2 M200.16,22.5 v4.2 M207.83,233.3 v-4.2 M207.83,22.5 v4.2 M214.10,233.3 v-4.2 M214.10,22.5 v4.2 M219.40,233.3 v-4.2 M219.40,22.5 v4.2 M223.99,233.3 v-4.2 M223.99,22.5 v4.2 M228.04,233.3 v-4.2 M228.04,22.5 v4.2 M231.67,233.3 v-7.3 M231.67,22.5 v7.3 M255.50,233.3 v-4.2 M255.50,22.5 v4.2 M269.44,233.3 v-4.2 M269.44,22.5 v4.2 M279.33,233.3 v-4.2 M279.33,22.5 v4.2 M287.00,233.3 v-4.2 M287.00,22.5 v4.2 M293.27,233.3 v-4.2 M293.27,22.5 v4.2 M298.57,233.3 v-4.2 M298.57,22.5 v4.2 M303.16,233.3 v-4.2 M303.16,22.5 v4.2 M307.21,233.3 v-4.2 M307.21,22.5 v4.2 M310.83,233.3 v-7.3 M310.83,22.5 v7.3 M334.66,233.3 v-4.2 M334.66,22.5 v4.2 M348.61,233.3 v-4.2 M348.61,22.5 v4.2 M358.50,233.3 v-4.2 M358.50,22.5 v4.2 M366.17,233.3 v-4.2 M366.17,22.5 v4.2 M372.44,233.3 v-4.2 M372.44,22.5 v4.2 M377.74,233.3 v-4.2 M377.74,22.5 v4.2 M382.33,233.3 v-4.2 M382.33,22.5 v4.2 M386.38,233.3 v-4.2 M386.38,22.5 v4.2 M390.00,233.3 v-7.3 M390.00,22.5 v7.3 M49.5,233.30 h7.3 M390.0,233.30 h-7.3 M49.5,206.95 h4.3 M390.0,206.95 h-4.3 M49.5,180.60 h7.3 M390.0,180.60 h-7.3 M49.5,154.25 h4.3 M390.0,154.25 h-4.3 M49.5,127.90 h7.3 M390.0,127.90 h-7.3 M49.5,101.55 h4.3 M390.0,101.55 h-4.3 M49.5,75.20 h7.3 M390.0,75.20 h-7.3 M49.5,48.85 h4.3 M390.0,48.85 h-4.3 M49.5,22.50 h7.3 M390.0,22.50 h-7.3" stroke="#222" stroke-width="0.8" fill="none"/>
<text x="64.93" y="246.0" font-size="11.3">10<tspan dy="-4.5" font-size="8.2">0</tspan></text>
<text x="144.10" y="246.0" font-size="11.3">10<tspan dy="-4.5" font-size="8.2">1</tspan></text>
<text x="223.27" y="246.0" font-size="11.3">10<tspan dy="-4.5" font-size="8.2">2</tspan></text>
<text x="302.43" y="246.0" font-size="11.3">10<tspan dy="-4.5" font-size="8.2">3</tspan></text>
<text x="381.60" y="246.0" font-size="11.3">10<tspan dy="-4.5" font-size="8.2">4</tspan></text>
<text x="46.50" y="26.60" font-size="11.3" text-anchor="end">10<tspan dy="-4.6" font-size="8.4">−42</tspan></text>
<text x="46.50" y="79.30" font-size="11.3" text-anchor="end">10<tspan dy="-4.6" font-size="8.4">−44</tspan></text>
<text x="46.50" y="132.00" font-size="11.3" text-anchor="end">10<tspan dy="-4.6" font-size="8.4">−46</tspan></text>
<text x="46.50" y="184.70" font-size="11.3" text-anchor="end">10<tspan dy="-4.6" font-size="8.4">−48</tspan></text>
<text x="46.50" y="237.40" font-size="11.3" text-anchor="end">10<tspan dy="-4.6" font-size="8.4">−50</tspan></text>
<text x="219.75" y="11.6" font-size="11.4" text-anchor="middle">Vector Mediator</text>
<text x="197.75" y="264.5" font-size="11.3"><tspan font-style="italic">m</tspan><tspan font-style="italic" font-size="8.3" dy="2.6">χ</tspan><tspan dy="-2.6" dx="0.7"> [GeV]</tspan></text>
<text transform="translate(10.10,150.9) rotate(-90)" font-size="11.3"><tspan font-style="italic" font-size="13.5" dy="0.85">σ</tspan><tspan font-size="7.6" dy="1.35" dx="-0.4"><tspan font-style="italic">χ</tspan><tspan font-size="8.1">n</tspan></tspan><tspan dy="-2.2" dx="0.3"> [cm</tspan><tspan dy="-4.4" font-size="8.8" dx="0.5">2</tspan><tspan dy="4.4" dx="-0.1">]</tspan></text>
<text x="239.40" y="56.4" font-size="8.15" fill="#17961a">LUX'16 Exclusion</text>
<path d="M60.80,164.8 H94.00" stroke="#1010fb" stroke-width="2.15" fill="none"/>
<text x="98.80" y="168.10" font-size="10.6">SM</text>
<path d="M60.80,181.9 H92.90" stroke="#dc1a6e" stroke-width="2.15" stroke-dasharray="5.0 1.55" fill="none"/>
<path d="M106.19,179.00 C105.25,177.60 102.76,177.60 101.30,179.00 C99.22,180.80 98.60,183.40 100.26,184.30 C101.92,185.20 104.52,183.60 105.36,181.20 L102.76,181.50 M105.36,181.20 C104.94,183.60 103.69,186.30 101.40,186.40 C100.05,186.40 99.22,185.90 99.12,185.10" fill="none" stroke="#111" stroke-width="0.85" stroke-linecap="round" stroke-linejoin="round"/>
<path d="M102.96,181.50 L105.36,181.20 C105.15,182.40 104.63,183.40 104.11,184.20" fill="none" stroke="#111" stroke-width="1.3" stroke-linecap="round" stroke-linejoin="round"/>
<text x="107.40" y="186.10" font-size="7.3" font-style="italic">V</text>
<text x="115.10" y="184.90" font-size="10.5">= 0.3</text>
<path d="M60.80,199.0 H92.90" stroke="#ff8000" stroke-width="2.15" stroke-dasharray="2.6 1.6 4.9 1.6" fill="none"/>
<path d="M106.19,196.10 C105.25,194.70 102.76,194.70 101.30,196.10 C99.22,197.90 98.60,200.50 100.26,201.40 C101.92,202.30 104.52,200.70 105.36,198.30 L102.76,198.60 M105.36,198.30 C104.94,200.70 103.69,203.40 101.40,203.50 C100.05,203.50 99.22,203.00 99.12,202.20" fill="none" stroke="#111" stroke-width="0.85" stroke-linecap="round" stroke-linejoin="round"/>
<path d="M102.96,198.60 L105.36,198.30 C105.15,199.50 104.63,200.50 104.11,201.30" fill="none" stroke="#111" stroke-width="1.3" stroke-linecap="round" stroke-linejoin="round"/>
<text x="107.40" y="203.20" font-size="7.3" font-style="italic">V</text>
<text x="115.10" y="202.00" font-size="10.5">= 2.3</text>
<path d="M60.80,216.0 H92.90" stroke="#800080" stroke-width="2.15" stroke-dasharray="2.6 1.52" fill="none"/>
<path d="M106.19,213.10 C105.25,211.70 102.76,211.70 101.30,213.10 C99.22,214.90 98.60,217.50 100.26,218.40 C101.92,219.30 104.52,217.70 105.36,215.30 L102.76,215.60 M105.36,215.30 C104.94,217.70 103.69,220.40 101.40,220.50 C100.05,220.50 99.22,220.00 99.12,219.20" fill="none" stroke="#111" stroke-width="0.85" stroke-linecap="round" stroke-linejoin="round"/>
<path d="M102.96,215.60 L105.36,215.30 C105.15,216.50 104.63,217.50 104.11,218.30" fill="none" stroke="#111" stroke-width="1.3" stroke-linecap="round" stroke-linejoin="round"/>
<text x="107.40" y="220.20" font-size="7.3" font-style="italic">V</text>
<text x="115.10" y="219.00" font-size="10.5">= 3.6</text>
<g clip-path="url(#c2)">
<path d="M548.70,22.40 L549.57,25.71 L550.44,29.04 L551.31,32.37 L552.18,35.71 L553.04,39.06 L553.91,42.51 L554.78,46.00 L555.65,49.34 L556.52,52.38 L557.39,55.17 L558.26,57.81 L559.13,60.37 L560.00,62.94 L560.86,65.49 L561.73,67.97 L562.60,70.33 L563.47,72.53 L564.34,74.53 L565.21,76.42 L566.08,78.23 L566.95,79.95 L567.82,81.59 L568.68,83.15 L569.55,84.63 L570.42,86.04 L571.29,87.40 L572.16,88.71 L573.03,89.96 L573.90,91.15 L574.77,92.28 L575.64,93.34 L576.50,94.34 L577.37,95.29 L578.24,96.19 L579.11,97.04 L579.98,97.86 L580.85,98.65 L581.72,99.40 L582.59,100.14 L583.46,100.86 L584.32,101.57 L585.19,102.28 L586.06,102.98 L586.93,103.66 L587.80,104.34 L588.67,105.00 L589.54,105.64 L590.41,106.27 L591.28,106.87 L592.14,107.46 L593.01,108.02 L593.88,108.56 L594.75,109.07 L595.62,109.55 L596.49,110.00 L597.36,110.43 L598.23,110.86 L599.10,111.28 L599.96,111.69 L600.83,112.08 L601.70,112.46 L602.57,112.83 L603.44,113.18 L604.31,113.51 L605.18,113.82 L606.05,114.11 L606.92,114.38 L607.78,114.63 L608.65,114.84 L609.52,115.04 L610.39,115.23 L611.26,115.42 L612.13,115.59 L613.00,115.77 L613.87,115.93 L614.74,116.08 L615.61,116.23 L616.47,116.36 L617.34,116.49 L618.21,116.60 L619.08,116.70 L619.95,116.78 L620.82,116.85 L621.69,116.91 L622.56,116.96 L623.43,117.01 L624.29,117.06 L625.16,117.10 L626.03,117.14 L626.90,117.17 L627.77,117.19 L628.64,117.20 L629.51,117.20 L630.38,117.19 L631.25,117.17 L632.11,117.14 L632.98,117.11 L633.85,117.07 L634.72,117.02 L635.59,116.97 L636.46,116.91 L637.33,116.84 L638.20,116.78 L639.07,116.70 L639.93,116.63 L640.80,116.55 L641.67,116.47 L642.54,116.39 L643.41,116.31 L644.28,116.23 L645.15,116.14 L646.02,116.06 L646.89,115.98 L647.75,115.90 L648.62,115.81 L649.49,115.71 L650.36,115.61 L651.23,115.51 L652.10,115.40 L652.97,115.28 L653.84,115.17 L654.71,115.04 L655.57,114.92 L656.44,114.79 L657.31,114.65 L658.18,114.52 L659.05,114.38 L659.92,114.24 L660.79,114.09 L661.66,113.94 L662.53,113.80 L663.39,113.64 L664.26,113.48 L665.13,113.31 L666.00,113.14 L666.87,112.95 L667.74,112.77 L668.61,112.58 L669.48,112.38 L670.35,112.18 L671.21,111.97 L672.08,111.76 L672.95,111.55 L673.82,111.34 L674.69,111.13 L675.56,110.91 L676.43,110.69 L677.30,110.46 L678.17,110.23 L679.03,110.00 L679.90,109.76 L680.77,109.52 L681.64,109.28 L682.51,109.03 L683.38,108.78 L684.25,108.53 L685.12,108.27 L685.99,108.02 L686.85,107.76 L687.72,107.49 L688.59,107.23 L689.46,106.97 L690.33,106.70 L691.20,106.43 L692.07,106.16 L692.94,105.89 L693.81,105.62 L694.67,105.35 L695.54,105.08 L696.41,104.81 L697.28,104.54 L698.15,104.27 L699.02,104.00 L699.89,103.73 L700.76,103.46 L701.63,103.19 L702.49,102.91 L703.36,102.64 L704.23,102.36 L705.10,102.08 L705.97,101.80 L706.84,101.52 L707.71,101.24 L708.58,100.96 L709.45,100.67 L710.31,100.39 L711.18,100.10 L712.05,99.81 L712.92,99.52 L713.79,99.23 L714.66,98.94 L715.53,98.65 L716.40,98.36 L717.27,98.07 L718.13,97.78 L719.00,97.49 L719.87,97.20 L720.74,96.91 L721.61,96.62 L722.48,96.33 L723.35,96.04 L724.22,95.76 L725.09,95.47 L725.95,95.18 L726.82,94.89 L727.69,94.61 L728.56,94.32 L729.43,94.04 L730.30,93.75 L731.17,93.46 L732.04,93.18 L732.91,92.89 L733.77,92.61 L734.64,92.32 L735.51,92.03 L736.38,91.75 L737.25,91.46 L738.12,91.18 L738.99,90.89 L739.86,90.60 L740.73,90.31 L741.59,90.03 L742.46,89.74 L743.33,89.45 L744.20,89.16 L745.07,88.88 L745.94,88.59 L746.81,88.30 L747.68,88.01 L748.55,87.72 L749.42,87.43 L750.28,87.14 L751.15,86.85 L752.02,86.56 L752.89,86.27 L753.76,85.98 L754.63,85.68 L755.50,85.39 L756.37,85.10 L757.24,84.80 L758.10,84.51 L758.97,84.22 L759.84,83.92 L760.71,83.62 L761.58,83.33 L762.45,83.03 L763.32,82.74 L764.19,82.44 L765.06,82.15 L765.92,81.85 L766.79,81.55 L767.66,81.26 L768.53,80.96 L769.40,80.66 L770.27,80.37 L771.14,80.07 L772.01,79.77 L772.88,79.48 L773.74,79.18 L774.61,78.89 L775.48,78.59 L776.35,78.29 L777.22,78.00 L778.09,77.70 L778.96,77.41 L779.83,77.11 L780.70,76.82 L781.56,76.52 L782.43,76.23 L783.30,75.94 L784.17,75.64 L785.04,75.35 L785.91,75.05 L786.78,74.76 L787.65,74.46 L788.52,74.17 L789.38,73.87 L790.25,73.58 L791.12,73.28 L791.99,72.99 L792.86,72.70 L793.73,72.40 L794.60,72.11 L795.47,71.81 L796.34,71.52 L797.20,71.22 L798.07,70.93 L798.94,70.64 L799.81,70.34 L800.68,70.05 L801.55,69.75 L802.42,69.46 L803.29,69.16 L804.16,68.87 L805.02,68.58 L805.89,68.28 L806.76,67.99 L807.63,67.69 L808.50,67.40 L808.5,67.40 L808.5,22.5 L548.70,22.5 Z" fill="#cdeccd" stroke="none"/>
<path d="M548.70,22.40 L549.57,25.71 L550.44,29.04 L551.31,32.37 L552.18,35.71 L553.04,39.06 L553.91,42.51 L554.78,46.00 L555.65,49.34 L556.52,52.38 L557.39,55.17 L558.26,57.81 L559.13,60.37 L560.00,62.94 L560.86,65.49 L561.73,67.97 L562.60,70.33 L563.47,72.53 L564.34,74.53 L565.21,76.42 L566.08,78.23 L566.95,79.95 L567.82,81.59 L568.68,83.15 L569.55,84.63 L570.42,86.04 L571.29,87.40 L572.16,88.71 L573.03,89.96 L573.90,91.15 L574.77,92.28 L575.64,93.34 L576.50,94.34 L577.37,95.29 L578.24,96.19 L579.11,97.04 L579.98,97.86 L580.85,98.65 L581.72,99.40 L582.59,100.14 L583.46,100.86 L584.32,101.57 L585.19,102.28 L586.06,102.98 L586.93,103.66 L587.80,104.34 L588.67,105.00 L589.54,105.64 L590.41,106.27 L591.28,106.87 L592.14,107.46 L593.01,108.02 L593.88,108.56 L594.75,109.07 L595.62,109.55 L596.49,110.00 L597.36,110.43 L598.23,110.86 L599.10,111.28 L599.96,111.69 L600.83,112.08 L601.70,112.46 L602.57,112.83 L603.44,113.18 L604.31,113.51 L605.18,113.82 L606.05,114.11 L606.92,114.38 L607.78,114.63 L608.65,114.84 L609.52,115.04 L610.39,115.23 L611.26,115.42 L612.13,115.59 L613.00,115.77 L613.87,115.93 L614.74,116.08 L615.61,116.23 L616.47,116.36 L617.34,116.49 L618.21,116.60 L619.08,116.70 L619.95,116.78 L620.82,116.85 L621.69,116.91 L622.56,116.96 L623.43,117.01 L624.29,117.06 L625.16,117.10 L626.03,117.14 L626.90,117.17 L627.77,117.19 L628.64,117.20 L629.51,117.20 L630.38,117.19 L631.25,117.17 L632.11,117.14 L632.98,117.11 L633.85,117.07 L634.72,117.02 L635.59,116.97 L636.46,116.91 L637.33,116.84 L638.20,116.78 L639.07,116.70 L639.93,116.63 L640.80,116.55 L641.67,116.47 L642.54,116.39 L643.41,116.31 L644.28,116.23 L645.15,116.14 L646.02,116.06 L646.89,115.98 L647.75,115.90 L648.62,115.81 L649.49,115.71 L650.36,115.61 L651.23,115.51 L652.10,115.40 L652.97,115.28 L653.84,115.17 L654.71,115.04 L655.57,114.92 L656.44,114.79 L657.31,114.65 L658.18,114.52 L659.05,114.38 L659.92,114.24 L660.79,114.09 L661.66,113.94 L662.53,113.80 L663.39,113.64 L664.26,113.48 L665.13,113.31 L666.00,113.14 L666.87,112.95 L667.74,112.77 L668.61,112.58 L669.48,112.38 L670.35,112.18 L671.21,111.97 L672.08,111.76 L672.95,111.55 L673.82,111.34 L674.69,111.13 L675.56,110.91 L676.43,110.69 L677.30,110.46 L678.17,110.23 L679.03,110.00 L679.90,109.76 L680.77,109.52 L681.64,109.28 L682.51,109.03 L683.38,108.78 L684.25,108.53 L685.12,108.27 L685.99,108.02 L686.85,107.76 L687.72,107.49 L688.59,107.23 L689.46,106.97 L690.33,106.70 L691.20,106.43 L692.07,106.16 L692.94,105.89 L693.81,105.62 L694.67,105.35 L695.54,105.08 L696.41,104.81 L697.28,104.54 L698.15,104.27 L699.02,104.00 L699.89,103.73 L700.76,103.46 L701.63,103.19 L702.49,102.91 L703.36,102.64 L704.23,102.36 L705.10,102.08 L705.97,101.80 L706.84,101.52 L707.71,101.24 L708.58,100.96 L709.45,100.67 L710.31,100.39 L711.18,100.10 L712.05,99.81 L712.92,99.52 L713.79,99.23 L714.66,98.94 L715.53,98.65 L716.40,98.36 L717.27,98.07 L718.13,97.78 L719.00,97.49 L719.87,97.20 L720.74,96.91 L721.61,96.62 L722.48,96.33 L723.35,96.04 L724.22,95.76 L725.09,95.47 L725.95,95.18 L726.82,94.89 L727.69,94.61 L728.56,94.32 L729.43,94.04 L730.30,93.75 L731.17,93.46 L732.04,93.18 L732.91,92.89 L733.77,92.61 L734.64,92.32 L735.51,92.03 L736.38,91.75 L737.25,91.46 L738.12,91.18 L738.99,90.89 L739.86,90.60 L740.73,90.31 L741.59,90.03 L742.46,89.74 L743.33,89.45 L744.20,89.16 L745.07,88.88 L745.94,88.59 L746.81,88.30 L747.68,88.01 L748.55,87.72 L749.42,87.43 L750.28,87.14 L751.15,86.85 L752.02,86.56 L752.89,86.27 L753.76,85.98 L754.63,85.68 L755.50,85.39 L756.37,85.10 L757.24,84.80 L758.10,84.51 L758.97,84.22 L759.84,83.92 L760.71,83.62 L761.58,83.33 L762.45,83.03 L763.32,82.74 L764.19,82.44 L765.06,82.15 L765.92,81.85 L766.79,81.55 L767.66,81.26 L768.53,80.96 L769.40,80.66 L770.27,80.37 L771.14,80.07 L772.01,79.77 L772.88,79.48 L773.74,79.18 L774.61,78.89 L775.48,78.59 L776.35,78.29 L777.22,78.00 L778.09,77.70 L778.96,77.41 L779.83,77.11 L780.70,76.82 L781.56,76.52 L782.43,76.23 L783.30,75.94 L784.17,75.64 L785.04,75.35 L785.91,75.05 L786.78,74.76 L787.65,74.46 L788.52,74.17 L789.38,73.87 L790.25,73.58 L791.12,73.28 L791.99,72.99 L792.86,72.70 L793.73,72.40 L794.60,72.11 L795.47,71.81 L796.34,71.52 L797.20,71.22 L798.07,70.93 L798.94,70.64 L799.81,70.34 L800.68,70.05 L801.55,69.75 L802.42,69.46 L803.29,69.16 L804.16,68.87 L805.02,68.58 L805.89,68.28 L806.76,67.99 L807.63,67.69 L808.50,67.40" fill="none" stroke="#12a612" stroke-width="1.8"/>
<path d="M468.00,33.90 L470.50,34.40 L472.30,34.90 L473.10,35.40 L474.08,36.23 L475.07,37.14 L476.05,38.15 L477.03,39.14 L478.02,40.08 L479.00,41.01 L479.98,41.94 L480.97,42.84 L481.95,43.70 L482.94,44.53 L483.92,45.30 L484.90,46.03 L485.89,46.73 L486.87,47.41 L487.85,48.07 L488.84,48.72 L489.82,49.38 L490.80,50.05 L491.79,50.72 L492.77,51.39 L493.75,52.04 L494.74,52.67 L495.72,53.27 L496.71,53.82 L497.69,54.36 L498.67,54.88 L499.66,55.38 L500.64,55.86 L501.62,56.34 L502.61,56.80 L503.59,57.26 L504.57,57.70 L505.56,58.14 L506.54,58.57 L507.52,59.00 L508.51,59.43 L509.49,59.85 L510.47,60.27 L511.46,60.69 L512.44,61.10 L513.43,61.50 L514.41,61.90 L515.39,62.29 L516.38,62.67 L517.36,63.05 L518.34,63.43 L519.33,63.80 L520.31,64.17 L521.29,64.53 L522.28,64.88 L523.26,65.23 L524.24,65.58 L525.23,65.93 L526.21,66.27 L527.19,66.61 L528.18,66.95 L529.16,67.27 L530.15,67.59 L531.13,67.91 L532.11,68.21 L533.10,68.51 L534.08,68.79 L535.06,69.07 L536.05,69.35 L537.03,69.61 L538.01,69.87 L539.00,70.12 L539.98,70.37 L540.96,70.61 L541.95,70.84 L542.93,71.07 L543.92,71.29 L544.90,71.51 L545.88,71.72 L546.87,71.93 L547.85,72.13 L548.83,72.33 L549.82,72.52 L550.80,72.70 L551.66,75.69 L552.52,79.62 L553.39,84.77 L554.25,90.45 L555.11,96.27 L555.97,101.58 L556.83,106.33 L557.69,110.81 L558.56,115.23 L559.42,119.81 L560.28,124.45 L561.14,128.83 L562.00,132.74 L562.87,136.36 L563.73,139.59 L564.59,142.34 L565.45,144.78 L566.31,147.00 L567.18,149.08 L568.04,151.08 L568.90,152.99 L569.76,154.80 L570.62,156.50 L571.48,158.10 L572.35,159.58 L573.21,160.97 L574.07,162.28 L574.93,163.50 L575.79,164.65 L576.66,165.72 L577.52,166.74 L578.38,167.71 L579.24,168.66 L580.10,169.61 L580.97,170.55 L581.83,171.50 L582.69,172.45 L583.55,173.39 L584.41,174.31 L585.27,175.22 L586.14,176.12 L587.00,177.00 L587.86,177.87 L588.72,178.75 L589.58,179.62 L590.45,180.47 L591.31,181.30 L592.17,182.10 L593.03,182.85 L593.89,183.55 L594.76,184.22 L595.62,184.87 L596.48,185.49 L597.34,186.08 L598.20,186.64 L599.06,187.17 L599.93,187.66 L600.79,188.13 L601.65,188.58 L602.51,189.01 L603.37,189.42 L604.24,189.80 L605.10,190.16 L605.96,190.48 L606.82,190.78 L607.68,191.05 L608.55,191.32 L609.41,191.57 L610.27,191.80 L611.13,192.02 L611.99,192.23 L612.85,192.41 L613.72,192.58 L614.58,192.74 L615.44,192.90 L616.30,193.04 L617.16,193.18 L618.03,193.30 L618.89,193.40 L619.75,193.48 L620.61,193.55 L621.47,193.61 L622.34,193.67 L623.20,193.72 L624.06,193.76 L624.92,193.79 L625.78,193.80 L626.64,193.80 L627.51,193.78 L628.37,193.75 L629.23,193.70 L630.09,193.65 L630.95,193.60 L631.82,193.54 L632.68,193.49 L633.54,193.42 L634.40,193.35 L635.26,193.27 L636.13,193.18 L636.99,193.08 L637.85,192.97 L638.71,192.85 L639.57,192.73 L640.43,192.61 L641.30,192.48 L642.16,192.34 L643.02,192.21 L643.88,192.07 L644.74,191.92 L645.61,191.78 L646.47,191.64 L647.33,191.49 L648.19,191.34 L649.05,191.18 L649.92,191.01 L650.78,190.83 L651.64,190.65 L652.50,190.46 L653.36,190.27 L654.22,190.07 L655.09,189.87 L655.95,189.67 L656.81,189.47 L657.67,189.26 L658.53,189.05 L659.40,188.84 L660.26,188.64 L661.12,188.43 L661.98,188.22 L662.84,188.02 L663.71,187.81 L664.57,187.61 L665.43,187.40 L666.29,187.19 L667.15,186.98 L668.01,186.76 L668.88,186.55 L669.74,186.33 L670.60,186.11 L671.46,185.89 L672.32,185.66 L673.19,185.44 L674.05,185.21 L674.91,184.98 L675.77,184.74 L676.63,184.50 L677.50,184.26 L678.36,184.02 L679.22,183.78 L680.08,183.53 L680.94,183.28 L681.80,183.03 L682.67,182.78 L683.53,182.53 L684.39,182.27 L685.25,182.02 L686.11,181.76 L686.98,181.50 L687.84,181.25 L688.70,180.99 L689.56,180.73 L690.42,180.48 L691.29,180.22 L692.15,179.97 L693.01,179.71 L693.87,179.46 L694.73,179.20 L695.59,178.95 L696.46,178.70 L697.32,178.45 L698.18,178.20 L699.04,177.96 L699.90,177.72 L700.77,177.47 L701.63,177.23 L702.49,177.00 L703.35,176.76 L704.21,176.52 L705.08,176.29 L705.94,176.05 L706.80,175.82 L707.66,175.58 L708.52,175.35 L709.38,175.11 L710.25,174.88 L711.11,174.65 L711.97,174.41 L712.83,174.18 L713.69,173.94 L714.56,173.71 L715.42,173.47 L716.28,173.23 L717.14,172.99 L718.00,172.75 L718.87,172.51 L719.73,172.27 L720.59,172.02 L721.45,171.77 L722.31,171.52 L723.17,171.27 L724.04,171.02 L724.90,170.76 L725.76,170.50 L726.62,170.24 L727.48,169.98 L728.35,169.71 L729.21,169.45 L730.07,169.18 L730.93,168.91 L731.79,168.63 L732.66,168.36 L733.52,168.09 L734.38,167.81 L735.24,167.53 L736.10,167.26 L736.96,166.98 L737.83,166.70 L738.69,166.42 L739.55,166.14 L740.41,165.86 L741.27,165.58 L742.14,165.31 L743.00,165.03 L743.86,164.75 L744.72,164.47 L745.58,164.19 L746.45,163.91 L747.31,163.63 L748.17,163.35 L749.03,163.07 L749.89,162.79 L750.75,162.51 L751.62,162.23 L752.48,161.94 L753.34,161.66 L754.20,161.38 L755.06,161.09 L755.93,160.81 L756.79,160.52 L757.65,160.24 L758.51,159.95 L759.37,159.67 L760.24,159.38 L761.10,159.10 L761.96,158.81 L762.82,158.52 L763.68,158.24 L764.54,157.95 L765.41,157.66 L766.27,157.38 L767.13,157.09 L767.99,156.80 L768.85,156.52 L769.72,156.23 L770.58,155.94 L771.44,155.65 L772.30,155.36 L773.16,155.07 L774.03,154.79 L774.89,154.50 L775.75,154.21 L776.61,153.92 L777.47,153.63 L778.33,153.34 L779.20,153.05 L780.06,152.75 L780.92,152.46 L781.78,152.17 L782.64,151.88 L783.51,151.59 L784.37,151.30 L785.23,151.01 L786.09,150.71 L786.95,150.42 L787.82,150.13 L788.68,149.84 L789.54,149.55 L790.40,149.25 L791.26,148.96 L792.12,148.67 L792.99,148.38 L793.85,148.09 L794.71,147.79 L795.57,147.50 L796.43,147.21 L797.30,146.92 L798.16,146.62 L799.02,146.33 L799.88,146.04 L800.74,145.74 L801.61,145.45 L802.47,145.16 L803.33,144.86 L804.19,144.57 L805.05,144.28 L805.91,143.98 L806.78,143.69 L807.64,143.39 L808.50,143.10" fill="none" stroke="#1010fb" stroke-width="2.15" stroke-linejoin="round"/>
<path d="M468.00,29.90 L468.72,29.92 L469.44,29.98 L470.16,30.07 L470.88,30.20 L471.60,30.35 L472.32,30.54 L473.04,30.75 L473.76,31.02 L474.48,31.65 L475.20,32.53 L475.92,33.46 L476.64,34.24 L477.36,34.91 L478.08,35.55 L478.80,36.18 L479.52,36.79 L480.24,37.39 L480.96,37.97 L481.68,38.54 L482.40,39.10 L483.12,39.65 L483.84,40.18 L484.56,40.71 L485.28,41.22 L486.00,41.73 L486.72,42.22 L487.44,42.71 L488.16,43.19 L488.88,43.66 L489.61,44.13 L490.33,44.58 L491.05,45.03 L491.77,45.47 L492.49,45.91 L493.21,46.34 L493.93,46.76 L494.65,47.17 L495.37,47.58 L496.09,47.98 L496.81,48.37 L497.53,48.76 L498.25,49.14 L498.97,49.52 L499.69,49.89 L500.41,50.25 L501.13,50.61 L501.85,50.97 L502.57,51.33 L503.29,51.68 L504.01,52.03 L504.73,52.38 L505.45,52.72 L506.17,53.06 L506.89,53.40 L507.61,53.73 L508.33,54.07 L509.05,54.40 L509.77,54.73 L510.49,55.06 L511.21,55.39 L511.93,55.71 L512.65,56.04 L513.37,56.37 L514.09,56.70 L514.81,57.02 L515.53,57.35 L516.25,57.68 L516.97,58.00 L517.69,58.33 L518.41,58.65 L519.13,58.96 L519.85,59.28 L520.57,59.59 L521.29,59.90 L522.01,60.20 L522.73,60.50 L523.45,60.79 L524.17,61.07 L524.89,61.35 L525.61,61.63 L526.33,61.91 L527.05,62.18 L527.77,62.46 L528.49,62.73 L529.21,63.00 L529.93,63.26 L530.65,63.52 L531.37,63.78 L532.09,64.03 L532.82,64.27 L533.54,64.51 L534.26,64.75 L534.98,64.97 L535.70,65.19 L536.42,65.41 L537.14,65.61 L537.86,65.81 L538.58,66.01 L539.30,66.20 L540.02,66.40 L540.74,66.59 L541.46,66.77 L542.18,66.96 L542.90,67.14 L543.62,67.32 L544.34,67.49 L545.06,67.67 L545.78,67.83 L546.50,68.00 L547.22,68.16 L547.94,68.31 L548.66,68.47 L549.38,68.61 L550.10,68.76 L550.82,68.90 L551.54,69.03 L552.26,69.16 L552.98,69.28 L553.70,69.40 L554.28,71.53 L554.80,74.26 L555.31,77.42 L555.77,81.45 L556.23,85.69 L556.68,90.05 L557.32,94.35 L557.97,98.26 L558.61,101.85 L559.26,105.26 L559.90,108.58 L560.55,111.90 L561.20,115.31 L561.84,118.80 L562.49,122.24 L563.13,125.49 L563.78,128.45 L564.43,131.25 L565.07,133.87 L565.72,136.25 L566.36,138.35 L567.01,140.26 L567.65,142.02 L568.29,143.68 L568.93,145.25 L569.57,146.78 L570.20,148.26 L570.84,149.70 L571.47,151.07 L572.11,152.40 L572.74,153.66 L573.37,154.86 L574.00,156.00 L574.63,157.08 L575.26,158.12 L575.89,159.11 L576.51,160.05 L577.14,160.95 L577.76,161.81 L578.39,162.63 L579.01,163.42 L579.64,164.18 L580.26,164.93 L580.88,165.66 L581.50,166.39 L582.12,167.12 L582.74,167.86 L583.36,168.60 L583.97,169.34 L584.59,170.07 L585.21,170.79 L585.83,171.51 L586.44,172.23 L587.06,172.93 L587.67,173.63 L588.29,174.31 L588.90,175.00 L589.52,175.68 L590.13,176.37 L590.75,177.05 L591.36,177.72 L591.98,178.38 L592.59,179.03 L593.20,179.65 L593.82,180.25 L594.43,180.83 L595.04,181.37 L595.66,181.90 L596.27,182.42 L596.89,182.92 L597.50,183.41 L598.11,183.88 L598.73,184.33 L599.34,184.77 L599.96,185.19 L600.57,185.59 L601.19,185.97 L601.80,186.34 L602.42,186.70 L603.03,187.05 L603.65,187.39 L604.27,187.71 L604.89,188.02 L605.50,188.31 L606.12,188.58 L606.74,188.84 L607.36,189.08 L607.98,189.31 L608.60,189.53 L609.22,189.75 L609.85,189.95 L610.47,190.15 L611.09,190.34 L611.72,190.52 L612.34,190.69 L612.97,190.84 L613.60,190.99 L614.23,191.13 L614.86,191.26 L615.49,191.39 L616.12,191.52 L616.75,191.63 L617.38,191.74 L618.02,191.84 L618.65,191.93 L619.29,192.01 L619.93,192.07 L620.57,192.13 L621.21,192.18 L621.85,192.23 L622.49,192.27 L623.14,192.31 L623.78,192.35 L624.43,192.37 L625.07,192.39 L625.72,192.40 L626.37,192.40 L627.01,192.39 L627.66,192.37 L628.30,192.35 L628.95,192.32 L629.60,192.28 L630.24,192.25 L630.89,192.21 L631.53,192.16 L632.18,192.12 L632.82,192.08 L633.47,192.03 L634.12,191.98 L634.76,191.92 L635.41,191.85 L636.05,191.78 L636.70,191.71 L637.35,191.63 L637.99,191.55 L638.64,191.46 L639.28,191.37 L639.93,191.28 L640.58,191.19 L641.22,191.09 L641.87,190.99 L642.51,190.89 L643.16,190.78 L643.80,190.68 L644.45,190.57 L645.10,190.47 L645.74,190.36 L646.39,190.25 L647.03,190.14 L647.68,190.03 L648.33,189.91 L648.97,189.79 L649.62,189.67 L650.26,189.54 L650.91,189.40 L651.55,189.27 L652.20,189.13 L652.85,188.99 L653.49,188.84 L654.14,188.69 L654.78,188.54 L655.43,188.39 L656.08,188.24 L656.72,188.09 L657.37,187.93 L658.01,187.78 L658.66,187.62 L659.31,187.47 L659.95,187.31 L660.60,187.15 L661.24,187.00 L661.89,186.84 L662.53,186.69 L663.18,186.54 L663.83,186.39 L664.47,186.23 L665.12,186.07 L665.76,185.92 L666.41,185.76 L667.06,185.60 L667.70,185.44 L668.35,185.28 L668.99,185.12 L669.64,184.95 L670.28,184.79 L670.93,184.62 L671.58,184.46 L672.22,184.29 L672.87,184.12 L673.51,183.95 L674.16,183.78 L674.81,183.60 L675.45,183.43 L676.10,183.25 L676.74,183.07 L677.39,182.89 L678.04,182.71 L678.68,182.53 L679.33,182.34 L679.97,182.16 L680.62,181.97 L681.26,181.79 L681.91,181.60 L682.56,181.41 L683.20,181.22 L683.85,181.03 L684.49,180.84 L685.14,180.65 L685.79,180.46 L686.43,180.27 L687.08,180.07 L687.72,179.88 L688.37,179.69 L689.02,179.50 L689.66,179.30 L690.31,179.11 L690.95,178.92 L691.60,178.73 L692.24,178.54 L692.89,178.35 L693.54,178.16 L694.18,177.96 L694.83,177.78 L695.47,177.59 L696.12,177.40 L696.77,177.21 L697.41,177.03 L698.06,176.84 L698.70,176.66 L699.35,176.47 L699.99,176.29 L700.64,176.11 L701.29,175.93 L701.93,175.75 L702.58,175.57 L703.22,175.39 L703.87,175.22 L704.52,175.04 L705.16,174.86 L705.81,174.69 L706.45,174.51 L707.10,174.33 L707.75,174.16 L708.39,173.98 L709.04,173.81 L709.68,173.63 L710.33,173.46 L710.97,173.28 L711.62,173.11 L712.27,172.93 L712.91,172.76 L713.56,172.58 L714.20,172.40 L714.85,172.23 L715.50,172.05 L716.14,171.87 L716.79,171.69 L717.43,171.51 L718.08,171.33 L718.72,171.15 L719.37,170.97 L720.02,170.79 L720.66,170.60 L721.31,170.42 L721.95,170.23 L722.60,170.04 L723.25,169.85 L723.89,169.66 L724.54,169.47 L725.18,169.28 L725.83,169.08 L726.48,168.89 L727.12,168.69 L727.77,168.49 L728.41,168.29 L729.06,168.09 L729.70,167.89 L730.35,167.69 L731.00,167.49 L731.64,167.28 L732.29,167.08 L732.93,166.87 L733.58,166.67 L734.23,166.46 L734.87,166.25 L735.52,166.04 L736.16,165.84 L736.81,165.63 L737.45,165.42 L738.10,165.21 L738.75,165.00 L739.39,164.79 L740.04,164.58 L740.68,164.37 L741.33,164.17 L741.98,163.96 L742.62,163.75 L743.27,163.54 L743.91,163.33 L744.56,163.12 L745.21,162.91 L745.85,162.70 L746.50,162.50 L747.14,162.29 L747.79,162.08 L748.43,161.87 L749.08,161.65 L749.73,161.44 L750.37,161.23 L751.02,161.02 L751.66,160.81 L752.31,160.60 L752.96,160.39 L753.60,160.17 L754.25,159.96 L754.89,159.75 L755.54,159.54 L756.18,159.32 L756.83,159.11 L757.48,158.90 L758.12,158.68 L758.77,158.47 L759.41,158.25 L760.06,158.04 L760.71,157.83 L761.35,157.61 L762.00,157.40 L762.64,157.18 L763.29,156.97 L763.94,156.75 L764.58,156.54 L765.23,156.32 L765.87,156.11 L766.52,155.89 L767.16,155.68 L767.81,155.46 L768.46,155.25 L769.10,155.03 L769.75,154.82 L770.39,154.60 L771.04,154.39 L771.69,154.17 L772.33,153.95 L772.98,153.74 L773.62,153.52 L774.27,153.30 L774.92,153.09 L775.56,152.87 L776.21,152.65 L776.85,152.44 L777.50,152.22 L778.14,152.00 L778.79,151.78 L779.44,151.56 L780.08,151.35 L780.73,151.13 L781.37,150.91 L782.02,150.69 L782.67,150.47 L783.31,150.26 L783.96,150.04 L784.60,149.82 L785.25,149.60 L785.89,149.38 L786.54,149.16 L787.19,148.94 L787.83,148.72 L788.48,148.51 L789.12,148.29 L789.77,148.07 L790.42,147.85 L791.06,147.63 L791.71,147.41 L792.35,147.19 L793.00,146.97 L793.65,146.75 L794.29,146.54 L794.94,146.32 L795.58,146.10 L796.23,145.88 L796.87,145.66 L797.52,145.44 L798.17,145.22 L798.81,145.00 L799.46,144.78 L800.10,144.56 L800.75,144.34 L801.40,144.12 L802.04,143.90 L802.69,143.68 L803.33,143.46 L803.98,143.24 L804.62,143.02 L805.27,142.80 L805.92,142.58 L806.56,142.36 L807.21,142.14 L807.85,141.92 L808.50,141.70" fill="none" stroke="#dc1a6e" stroke-width="2.15" stroke-dasharray="5.0 1.55" stroke-linejoin="round"/>
<path d="M468.00,23.70 L468.72,23.71 L469.45,23.76 L470.17,23.83 L470.89,23.92 L471.62,24.04 L472.34,24.18 L473.06,24.34 L473.79,24.52 L474.51,24.77 L475.24,25.30 L475.96,26.05 L476.68,26.92 L477.41,27.81 L478.13,28.63 L478.85,29.41 L479.58,30.23 L480.30,31.06 L481.02,31.87 L481.75,32.64 L482.47,33.36 L483.19,34.05 L483.92,34.70 L484.64,35.34 L485.36,35.95 L486.09,36.53 L486.81,37.09 L487.54,37.63 L488.26,38.14 L488.98,38.64 L489.71,39.13 L490.43,39.62 L491.15,40.10 L491.88,40.58 L492.60,41.05 L493.32,41.52 L494.05,41.98 L494.77,42.44 L495.49,42.89 L496.22,43.33 L496.94,43.77 L497.66,44.21 L498.39,44.63 L499.11,45.06 L499.84,45.48 L500.56,45.90 L501.28,46.32 L502.01,46.73 L502.73,47.14 L503.45,47.55 L504.18,47.95 L504.90,48.35 L505.62,48.75 L506.35,49.14 L507.07,49.53 L507.79,49.91 L508.52,50.29 L509.24,50.66 L509.96,51.03 L510.69,51.40 L511.41,51.76 L512.14,52.11 L512.86,52.47 L513.58,52.82 L514.31,53.17 L515.03,53.51 L515.75,53.85 L516.48,54.19 L517.20,54.52 L517.92,54.85 L518.65,55.18 L519.37,55.50 L520.09,55.81 L520.82,56.12 L521.54,56.43 L522.26,56.73 L522.99,57.02 L523.71,57.30 L524.44,57.58 L525.16,57.85 L525.88,58.11 L526.61,58.38 L527.33,58.63 L528.05,58.89 L528.78,59.14 L529.50,59.39 L530.22,59.63 L530.95,59.87 L531.67,60.10 L532.39,60.33 L533.12,60.56 L533.84,60.77 L534.56,60.99 L535.29,61.20 L536.01,61.40 L536.74,61.60 L537.46,61.80 L538.18,61.99 L538.91,62.18 L539.63,62.36 L540.35,62.55 L541.08,62.73 L541.80,62.91 L542.52,63.09 L543.25,63.27 L543.97,63.44 L544.69,63.61 L545.42,63.78 L546.14,63.94 L546.86,64.10 L547.59,64.26 L548.31,64.41 L549.04,64.56 L549.76,64.71 L550.48,64.85 L551.21,64.99 L551.93,65.12 L552.65,65.25 L553.38,65.38 L554.10,65.50 L554.53,67.63 L555.07,70.36 L555.59,73.52 L556.07,77.55 L556.55,81.79 L557.18,86.15 L557.82,90.45 L558.47,94.36 L559.11,97.95 L559.76,101.36 L560.40,104.68 L561.05,108.00 L561.70,111.41 L562.34,114.90 L562.99,118.34 L563.63,121.59 L564.28,124.55 L564.93,127.35 L565.57,129.97 L566.22,132.35 L566.86,134.45 L567.50,136.37 L568.15,138.14 L568.78,139.80 L569.42,141.38 L570.06,142.93 L570.69,144.42 L571.33,145.87 L571.96,147.27 L572.59,148.61 L573.22,149.89 L573.85,151.12 L574.47,152.28 L575.10,153.39 L575.72,154.46 L576.35,155.48 L576.97,156.45 L577.59,157.38 L578.21,158.28 L578.83,159.13 L579.45,159.96 L580.06,160.76 L580.68,161.55 L581.29,162.32 L581.91,163.09 L582.52,163.87 L583.13,164.65 L583.75,165.43 L584.36,166.21 L584.97,166.99 L585.58,167.77 L586.19,168.53 L586.80,169.29 L587.40,170.05 L588.01,170.80 L588.62,171.53 L589.23,172.27 L589.83,173.01 L590.44,173.74 L591.05,174.48 L591.65,175.20 L592.26,175.92 L592.86,176.61 L593.47,177.29 L594.08,177.94 L594.68,178.57 L595.29,179.17 L595.89,179.75 L596.50,180.32 L597.10,180.88 L597.71,181.42 L598.32,181.94 L598.92,182.45 L599.53,182.94 L600.14,183.41 L600.74,183.85 L601.35,184.29 L601.96,184.71 L602.57,185.12 L603.18,185.52 L603.78,185.91 L604.39,186.28 L605.01,186.63 L605.62,186.97 L606.23,187.29 L606.84,187.58 L607.45,187.87 L608.07,188.14 L608.68,188.40 L609.30,188.66 L609.92,188.90 L610.53,189.14 L611.15,189.36 L611.77,189.57 L612.39,189.78 L613.01,189.97 L613.64,190.14 L614.26,190.31 L614.88,190.47 L615.51,190.63 L616.14,190.78 L616.77,190.92 L617.40,191.05 L618.03,191.16 L618.66,191.27 L619.30,191.36 L619.93,191.44 L620.57,191.50 L621.21,191.57 L621.85,191.62 L622.49,191.67 L623.14,191.71 L623.78,191.75 L624.43,191.77 L625.07,191.79 L625.72,191.80 L626.37,191.80 L627.01,191.79 L627.66,191.77 L628.30,191.75 L628.95,191.72 L629.60,191.68 L630.24,191.65 L630.89,191.61 L631.53,191.56 L632.18,191.52 L632.82,191.48 L633.47,191.43 L634.12,191.38 L634.76,191.32 L635.41,191.25 L636.05,191.18 L636.70,191.11 L637.35,191.03 L637.99,190.95 L638.64,190.86 L639.28,190.77 L639.93,190.68 L640.58,190.59 L641.22,190.49 L641.87,190.39 L642.51,190.29 L643.16,190.18 L643.80,190.08 L644.45,189.97 L645.10,189.87 L645.74,189.76 L646.39,189.65 L647.03,189.54 L647.68,189.43 L648.33,189.31 L648.97,189.19 L649.62,189.07 L650.26,188.94 L650.91,188.80 L651.55,188.67 L652.20,188.53 L652.85,188.39 L653.49,188.24 L654.14,188.09 L654.78,187.94 L655.43,187.79 L656.08,187.64 L656.72,187.49 L657.37,187.33 L658.01,187.18 L658.66,187.02 L659.31,186.87 L659.95,186.71 L660.60,186.55 L661.24,186.40 L661.89,186.24 L662.53,186.09 L663.18,185.94 L663.83,185.79 L664.47,185.63 L665.12,185.47 L665.76,185.32 L666.41,185.16 L667.06,185.00 L667.70,184.84 L668.35,184.68 L668.99,184.52 L669.64,184.35 L670.28,184.19 L670.93,184.02 L671.58,183.86 L672.22,183.69 L672.87,183.52 L673.51,183.35 L674.16,183.18 L674.81,183.00 L675.45,182.83 L676.10,182.65 L676.74,182.47 L677.39,182.29 L678.04,182.11 L678.68,181.93 L679.33,181.74 L679.97,181.56 L680.62,181.37 L681.26,181.19 L681.91,181.00 L682.56,180.81 L683.20,180.62 L683.85,180.43 L684.49,180.24 L685.14,180.05 L685.79,179.86 L686.43,179.67 L687.08,179.47 L687.72,179.28 L688.37,179.09 L689.02,178.90 L689.66,178.70 L690.31,178.51 L690.95,178.32 L691.60,178.13 L692.24,177.94 L692.89,177.75 L693.54,177.56 L694.18,177.36 L694.83,177.18 L695.47,176.99 L696.12,176.80 L696.77,176.61 L697.41,176.43 L698.06,176.24 L698.70,176.06 L699.35,175.87 L699.99,175.69 L700.64,175.51 L701.29,175.33 L701.93,175.15 L702.58,174.97 L703.22,174.79 L703.87,174.62 L704.52,174.44 L705.16,174.26 L705.81,174.09 L706.45,173.91 L707.10,173.73 L707.75,173.56 L708.39,173.38 L709.04,173.21 L709.68,173.03 L710.33,172.86 L710.97,172.68 L711.62,172.51 L712.27,172.33 L712.91,172.16 L713.56,171.98 L714.20,171.80 L714.85,171.63 L715.50,171.45 L716.14,171.27 L716.79,171.09 L717.43,170.91 L718.08,170.73 L718.72,170.55 L719.37,170.37 L720.02,170.19 L720.66,170.00 L721.31,169.82 L721.95,169.63 L722.60,169.44 L723.25,169.25 L723.89,169.06 L724.54,168.87 L725.18,168.68 L725.83,168.48 L726.48,168.29 L727.12,168.09 L727.77,167.89 L728.41,167.69 L729.06,167.49 L729.70,167.29 L730.35,167.09 L731.00,166.89 L731.64,166.68 L732.29,166.48 L732.93,166.27 L733.58,166.07 L734.23,165.86 L734.87,165.65 L735.52,165.44 L736.16,165.24 L736.81,165.03 L737.45,164.82 L738.10,164.61 L738.75,164.40 L739.39,164.19 L740.04,163.98 L740.68,163.77 L741.33,163.57 L741.98,163.36 L742.62,163.15 L743.27,162.94 L743.91,162.73 L744.56,162.52 L745.21,162.31 L745.85,162.10 L746.50,161.90 L747.14,161.69 L747.79,161.48 L748.43,161.27 L749.08,161.05 L749.73,160.84 L750.37,160.63 L751.02,160.42 L751.66,160.21 L752.31,160.00 L752.96,159.79 L753.60,159.57 L754.25,159.36 L754.89,159.15 L755.54,158.94 L756.18,158.72 L756.83,158.51 L757.48,158.30 L758.12,158.08 L758.77,157.87 L759.41,157.65 L760.06,157.44 L760.71,157.23 L761.35,157.01 L762.00,156.80 L762.64,156.58 L763.29,156.37 L763.94,156.15 L764.58,155.94 L765.23,155.72 L765.87,155.51 L766.52,155.29 L767.16,155.08 L767.81,154.86 L768.46,154.65 L769.10,154.43 L769.75,154.22 L770.39,154.00 L771.04,153.79 L771.69,153.57 L772.33,153.35 L772.98,153.14 L773.62,152.92 L774.27,152.70 L774.92,152.49 L775.56,152.27 L776.21,152.05 L776.85,151.84 L777.50,151.62 L778.14,151.40 L778.79,151.18 L779.44,150.96 L780.08,150.75 L780.73,150.53 L781.37,150.31 L782.02,150.09 L782.67,149.87 L783.31,149.66 L783.96,149.44 L784.60,149.22 L785.25,149.00 L785.89,148.78 L786.54,148.56 L787.19,148.34 L787.83,148.12 L788.48,147.91 L789.12,147.69 L789.77,147.47 L790.42,147.25 L791.06,147.03 L791.71,146.81 L792.35,146.59 L793.00,146.37 L793.65,146.15 L794.29,145.94 L794.94,145.72 L795.58,145.50 L796.23,145.28 L796.87,145.06 L797.52,144.84 L798.17,144.62 L798.81,144.40 L799.46,144.18 L800.10,143.96 L800.75,143.74 L801.40,143.52 L802.04,143.30 L802.69,143.08 L803.33,142.86 L803.98,142.64 L804.62,142.42 L805.27,142.20 L805.92,141.98 L806.56,141.76 L807.21,141.54 L807.85,141.32 L808.50,141.10" fill="none" stroke="#ff8000" stroke-width="2.15" stroke-dasharray="2.6 1.6 4.9 1.6" stroke-linejoin="round"/>
<path d="M468.00,21.20 L468.73,21.21 L469.45,21.25 L470.18,21.32 L470.91,21.41 L471.63,21.53 L472.36,21.67 L473.09,21.83 L473.82,22.01 L474.54,22.21 L475.27,22.64 L476.00,23.38 L476.72,24.28 L477.45,25.23 L478.18,26.08 L478.90,26.90 L479.63,27.74 L480.36,28.58 L481.08,29.41 L481.81,30.20 L482.54,30.94 L483.26,31.64 L483.99,32.33 L484.72,32.98 L485.45,33.61 L486.17,34.20 L486.90,34.75 L487.63,35.27 L488.35,35.76 L489.08,36.24 L489.81,36.71 L490.53,37.19 L491.26,37.67 L491.99,38.15 L492.71,38.63 L493.44,39.10 L494.17,39.57 L494.89,40.04 L495.62,40.50 L496.35,40.96 L497.08,41.42 L497.80,41.87 L498.53,42.32 L499.26,42.76 L499.98,43.21 L500.71,43.66 L501.44,44.10 L502.16,44.55 L502.89,44.99 L503.62,45.43 L504.34,45.87 L505.07,46.31 L505.80,46.74 L506.53,47.16 L507.25,47.58 L507.98,48.00 L508.71,48.40 L509.43,48.80 L510.16,49.20 L510.89,49.58 L511.61,49.95 L512.34,50.32 L513.07,50.68 L513.79,51.04 L514.52,51.39 L515.25,51.74 L515.97,52.08 L516.70,52.42 L517.43,52.75 L518.16,53.08 L518.88,53.40 L519.61,53.72 L520.34,54.03 L521.06,54.34 L521.79,54.64 L522.52,54.93 L523.24,55.22 L523.97,55.50 L524.70,55.77 L525.42,56.04 L526.15,56.31 L526.88,56.57 L527.61,56.83 L528.33,57.09 L529.06,57.34 L529.79,57.58 L530.51,57.83 L531.24,58.06 L531.97,58.30 L532.69,58.52 L533.42,58.75 L534.15,58.97 L534.87,59.18 L535.60,59.39 L536.33,59.59 L537.05,59.79 L537.78,59.98 L538.51,60.17 L539.24,60.36 L539.96,60.55 L540.69,60.74 L541.42,60.92 L542.14,61.10 L542.87,61.28 L543.60,61.46 L544.32,61.63 L545.05,61.80 L545.78,61.97 L546.50,62.13 L547.23,62.29 L547.96,62.45 L548.68,62.60 L549.41,62.76 L550.14,62.90 L550.87,63.05 L551.59,63.18 L552.32,63.32 L553.05,63.45 L553.77,63.58 L554.50,63.70 L554.90,65.83 L555.45,68.56 L555.98,71.72 L556.49,75.75 L557.03,79.99 L557.68,84.35 L558.32,88.65 L558.97,92.56 L559.61,96.15 L560.26,99.56 L560.90,102.88 L561.55,106.20 L562.20,109.61 L562.84,113.10 L563.49,116.54 L564.13,119.79 L564.78,122.75 L565.43,125.55 L566.07,128.17 L566.72,130.55 L567.36,132.65 L568.00,134.57 L568.64,136.34 L569.28,138.00 L569.92,139.59 L570.55,141.14 L571.19,142.64 L571.82,144.09 L572.45,145.49 L573.07,146.84 L573.70,148.13 L574.32,149.35 L574.95,150.52 L575.57,151.64 L576.19,152.72 L576.81,153.74 L577.42,154.73 L578.04,155.67 L578.65,156.57 L579.27,157.43 L579.88,158.27 L580.49,159.08 L581.10,159.87 L581.71,160.66 L582.32,161.44 L582.92,162.22 L583.53,163.01 L584.13,163.81 L584.74,164.60 L585.34,165.39 L585.95,166.18 L586.55,166.96 L587.15,167.73 L587.75,168.50 L588.35,169.25 L588.95,170.00 L589.55,170.75 L590.15,171.50 L590.75,172.25 L591.35,173.00 L591.94,173.74 L592.54,174.46 L593.14,175.17 L593.74,175.86 L594.34,176.53 L594.93,177.17 L595.53,177.78 L596.13,178.38 L596.72,178.96 L597.32,179.53 L597.92,180.08 L598.52,180.62 L599.12,181.14 L599.72,181.64 L600.31,182.12 L600.91,182.58 L601.51,183.02 L602.11,183.46 L602.72,183.88 L603.32,184.29 L603.92,184.69 L604.52,185.07 L605.12,185.44 L605.73,185.79 L606.33,186.12 L606.94,186.42 L607.55,186.72 L608.15,187.00 L608.76,187.28 L609.37,187.54 L609.98,187.79 L610.60,188.04 L611.21,188.27 L611.82,188.49 L612.44,188.70 L613.06,188.90 L613.67,189.08 L614.29,189.26 L614.91,189.43 L615.54,189.59 L616.16,189.74 L616.79,189.89 L617.41,190.02 L618.04,190.15 L618.67,190.26 L619.30,190.35 L619.94,190.43 L620.57,190.50 L621.21,190.56 L621.85,190.62 L622.49,190.67 L623.14,190.71 L623.78,190.75 L624.43,190.77 L625.07,190.79 L625.72,190.80 L626.37,190.80 L627.01,190.79 L627.66,190.77 L628.30,190.75 L628.95,190.72 L629.60,190.68 L630.24,190.65 L630.89,190.61 L631.53,190.56 L632.18,190.52 L632.82,190.48 L633.47,190.43 L634.12,190.38 L634.76,190.32 L635.41,190.25 L636.05,190.18 L636.70,190.11 L637.35,190.03 L637.99,189.95 L638.64,189.86 L639.28,189.77 L639.93,189.68 L640.58,189.59 L641.22,189.49 L641.87,189.39 L642.51,189.29 L643.16,189.18 L643.80,189.08 L644.45,188.97 L645.10,188.87 L645.74,188.76 L646.39,188.65 L647.03,188.54 L647.68,188.43 L648.33,188.31 L648.97,188.19 L649.62,188.07 L650.26,187.94 L650.91,187.80 L651.55,187.67 L652.20,187.53 L652.85,187.39 L653.49,187.24 L654.14,187.09 L654.78,186.94 L655.43,186.79 L656.08,186.64 L656.72,186.49 L657.37,186.33 L658.01,186.18 L658.66,186.02 L659.31,185.87 L659.95,185.71 L660.60,185.55 L661.24,185.40 L661.89,185.24 L662.53,185.09 L663.18,184.94 L663.83,184.79 L664.47,184.63 L665.12,184.47 L665.76,184.32 L666.41,184.16 L667.06,184.00 L667.70,183.84 L668.35,183.68 L668.99,183.52 L669.64,183.35 L670.28,183.19 L670.93,183.02 L671.58,182.86 L672.22,182.69 L672.87,182.52 L673.51,182.35 L674.16,182.18 L674.81,182.00 L675.45,181.83 L676.10,181.65 L676.74,181.47 L677.39,181.29 L678.04,181.11 L678.68,180.93 L679.33,180.74 L679.97,180.56 L680.62,180.37 L681.26,180.19 L681.91,180.00 L682.56,179.81 L683.20,179.62 L683.85,179.43 L684.49,179.24 L685.14,179.05 L685.79,178.86 L686.43,178.67 L687.08,178.47 L687.72,178.28 L688.37,178.09 L689.02,177.90 L689.66,177.70 L690.31,177.51 L690.95,177.32 L691.60,177.13 L692.24,176.94 L692.89,176.75 L693.54,176.56 L694.18,176.36 L694.83,176.18 L695.47,175.99 L696.12,175.80 L696.77,175.61 L697.41,175.43 L698.06,175.24 L698.70,175.06 L699.35,174.87 L699.99,174.69 L700.64,174.51 L701.29,174.33 L701.93,174.15 L702.58,173.97 L703.22,173.79 L703.87,173.62 L704.52,173.44 L705.16,173.26 L705.81,173.09 L706.45,172.91 L707.10,172.73 L707.75,172.56 L708.39,172.38 L709.04,172.21 L709.68,172.03 L710.33,171.86 L710.97,171.68 L711.62,171.51 L712.27,171.33 L712.91,171.16 L713.56,170.98 L714.20,170.80 L714.85,170.63 L715.50,170.45 L716.14,170.27 L716.79,170.09 L717.43,169.91 L718.08,169.73 L718.72,169.55 L719.37,169.37 L720.02,169.19 L720.66,169.00 L721.31,168.82 L721.95,168.63 L722.60,168.44 L723.25,168.25 L723.89,168.06 L724.54,167.87 L725.18,167.68 L725.83,167.48 L726.48,167.29 L727.12,167.09 L727.77,166.89 L728.41,166.69 L729.06,166.49 L729.70,166.29 L730.35,166.09 L731.00,165.89 L731.64,165.68 L732.29,165.48 L732.93,165.27 L733.58,165.07 L734.23,164.86 L734.87,164.65 L735.52,164.44 L736.16,164.24 L736.81,164.03 L737.45,163.82 L738.10,163.61 L738.75,163.40 L739.39,163.19 L740.04,162.98 L740.68,162.77 L741.33,162.57 L741.98,162.36 L742.62,162.15 L743.27,161.94 L743.91,161.73 L744.56,161.52 L745.21,161.31 L745.85,161.10 L746.50,160.90 L747.14,160.69 L747.79,160.48 L748.43,160.27 L749.08,160.05 L749.73,159.84 L750.37,159.63 L751.02,159.42 L751.66,159.21 L752.31,159.00 L752.96,158.79 L753.60,158.57 L754.25,158.36 L754.89,158.15 L755.54,157.94 L756.18,157.72 L756.83,157.51 L757.48,157.30 L758.12,157.08 L758.77,156.87 L759.41,156.65 L760.06,156.44 L760.71,156.23 L761.35,156.01 L762.00,155.80 L762.64,155.58 L763.29,155.37 L763.94,155.15 L764.58,154.94 L765.23,154.72 L765.87,154.51 L766.52,154.29 L767.16,154.08 L767.81,153.86 L768.46,153.65 L769.10,153.43 L769.75,153.22 L770.39,153.00 L771.04,152.79 L771.69,152.57 L772.33,152.35 L772.98,152.14 L773.62,151.92 L774.27,151.70 L774.92,151.49 L775.56,151.27 L776.21,151.05 L776.85,150.84 L777.50,150.62 L778.14,150.40 L778.79,150.18 L779.44,149.96 L780.08,149.75 L780.73,149.53 L781.37,149.31 L782.02,149.09 L782.67,148.87 L783.31,148.66 L783.96,148.44 L784.60,148.22 L785.25,148.00 L785.89,147.78 L786.54,147.56 L787.19,147.34 L787.83,147.12 L788.48,146.91 L789.12,146.69 L789.77,146.47 L790.42,146.25 L791.06,146.03 L791.71,145.81 L792.35,145.59 L793.00,145.37 L793.65,145.15 L794.29,144.94 L794.94,144.72 L795.58,144.50 L796.23,144.28 L796.87,144.06 L797.52,143.84 L798.17,143.62 L798.81,143.40 L799.46,143.18 L800.10,142.96 L800.75,142.74 L801.40,142.52 L802.04,142.30 L802.69,142.08 L803.33,141.86 L803.98,141.64 L804.62,141.42 L805.27,141.20 L805.92,140.98 L806.56,140.76 L807.21,140.54 L807.85,140.32 L808.50,140.10" fill="none" stroke="#800080" stroke-width="2.15" stroke-dasharray="2.6 1.52" stroke-linejoin="round"/>
</g>
<polygon points="558.10,72.00 559.66,76.66 564.57,76.70 560.62,79.62 562.10,84.30 558.10,81.45 554.10,84.30 555.58,79.62 551.63,76.70 556.54,76.66" fill="#ff1a1a"/>
<rect x="468.0" y="22.5" width="340.5" height="210.8" fill="none" stroke="#5a5a5a" stroke-width="1"/>
<path d="M468.00,233.3 v-4.2 M468.00,22.5 v4.2 M474.27,233.3 v-4.2 M474.27,22.5 v4.2 M479.57,233.3 v-4.2 M479.57,22.5 v4.2 M484.16,233.3 v-4.2 M484.16,22.5 v4.2 M488.21,233.3 v-4.2 M488.21,22.5 v4.2 M491.83,233.3 v-7.3 M491.83,22.5 v7.3 M515.66,233.3 v-4.2 M515.66,22.5 v4.2 M529.60,233.3 v-4.2 M529.60,22.5 v4.2 M539.50,233.3 v-4.2 M539.50,22.5 v4.2 M547.17,233.3 v-4.2 M547.17,22.5 v4.2 M553.44,233.3 v-4.2 M553.44,22.5 v4.2 M558.74,233.3 v-4.2 M558.74,22.5 v4.2 M563.33,233.3 v-4.2 M563.33,22.5 v4.2 M567.38,233.3 v-4.2 M567.38,22.5 v4.2 M571.00,233.3 v-7.3 M571.00,22.5 v7.3 M594.83,233.3 v-4.2 M594.83,22.5 v4.2 M608.77,233.3 v-4.2 M608.77,22.5 v4.2 M618.66,233.3 v-4.2 M618.66,22.5 v4.2 M626.33,233.3 v-4.2 M626.33,22.5 v4.2 M632.60,233.3 v-4.2 M632.60,22.5 v4.2 M637.90,233.3 v-4.2 M637.90,22.5 v4.2 M642.49,233.3 v-4.2 M642.49,22.5 v4.2 M646.54,233.3 v-4.2 M646.54,22.5 v4.2 M650.17,233.3 v-7.3 M650.17,22.5 v7.3 M674.00,233.3 v-4.2 M674.00,22.5 v4.2 M687.94,233.3 v-4.2 M687.94,22.5 v4.2 M697.83,233.3 v-4.2 M697.83,22.5 v4.2 M705.50,233.3 v-4.2 M705.50,22.5 v4.2 M711.77,233.3 v-4.2 M711.77,22.5 v4.2 M717.07,233.3 v-4.2 M717.07,22.5 v4.2 M721.66,233.3 v-4.2 M721.66,22.5 v4.2 M725.71,233.3 v-4.2 M725.71,22.5 v4.2 M729.33,233.3 v-7.3 M729.33,22.5 v7.3 M753.16,233.3 v-4.2 M753.16,22.5 v4.2 M767.11,233.3 v-4.2 M767.11,22.5 v4.2 M777.00,233.3 v-4.2 M777.00,22.5 v4.2 M784.67,233.3 v-4.2 M784.67,22.5 v4.2 M790.94,233.3 v-4.2 M790.94,22.5 v4.2 M796.24,233.3 v-4.2 M796.24,22.5 v4.2 M800.83,233.3 v-4.2 M800.83,22.5 v4.2 M804.88,233.3 v-4.2 M804.88,22.5 v4.2 M808.50,233.3 v-7.3 M808.50,22.5 v7.3 M468.0,233.30 h7.3 M808.5,233.30 h-7.3 M468.0,206.95 h4.3 M808.5,206.95 h-4.3 M468.0,180.60 h7.3 M808.5,180.60 h-7.3 M468.0,154.25 h4.3 M808.5,154.25 h-4.3 M468.0,127.90 h7.3 M808.5,127.90 h-7.3 M468.0,101.55 h4.3 M808.5,101.55 h-4.3 M468.0,75.20 h7.3 M808.5,75.20 h-7.3 M468.0,48.85 h4.3 M808.5,48.85 h-4.3 M468.0,22.50 h7.3 M808.5,22.50 h-7.3" stroke="#222" stroke-width="0.8" fill="none"/>
<text x="483.43" y="246.0" font-size="11.3">10<tspan dy="-4.5" font-size="8.2">0</tspan></text>
<text x="562.60" y="246.0" font-size="11.3">10<tspan dy="-4.5" font-size="8.2">1</tspan></text>
<text x="641.77" y="246.0" font-size="11.3">10<tspan dy="-4.5" font-size="8.2">2</tspan></text>
<text x="720.93" y="246.0" font-size="11.3">10<tspan dy="-4.5" font-size="8.2">3</tspan></text>
<text x="800.10" y="246.0" font-size="11.3">10<tspan dy="-4.5" font-size="8.2">4</tspan></text>
<text x="465.00" y="26.60" font-size="11.3" text-anchor="end">10<tspan dy="-4.6" font-size="8.4">−42</tspan></text>
<text x="465.00" y="79.30" font-size="11.3" text-anchor="end">10<tspan dy="-4.6" font-size="8.4">−44</tspan></text>
<text x="465.00" y="132.00" font-size="11.3" text-anchor="end">10<tspan dy="-4.6" font-size="8.4">−46</tspan></text>
<text x="465.00" y="184.70" font-size="11.3" text-anchor="end">10<tspan dy="-4.6" font-size="8.4">−48</tspan></text>
<text x="465.00" y="237.40" font-size="11.3" text-anchor="end">10<tspan dy="-4.6" font-size="8.4">−50</tspan></text>
<text x="638.25" y="11.6" font-size="11.4" text-anchor="middle">Scalar Mediator</text>
<text x="616.25" y="264.5" font-size="11.3"><tspan font-style="italic">m</tspan><tspan font-style="italic" font-size="8.3" dy="2.6">χ</tspan><tspan dy="-2.6" dx="0.7"> [GeV]</tspan></text>
<text transform="translate(429.20,150.9) rotate(-90)" font-size="11.3"><tspan font-style="italic" font-size="13.5" dy="0.85">σ</tspan><tspan font-size="7.6" dy="1.35" dx="-0.4"><tspan font-style="italic">χ</tspan><tspan font-size="8.1">n</tspan></tspan><tspan dy="-2.2" dx="0.3"> [cm</tspan><tspan dy="-4.4" font-size="8.8" dx="0.5">2</tspan><tspan dy="4.4" dx="-0.1">]</tspan></text>
<text x="657.90" y="56.4" font-size="8.15" fill="#17961a">LUX'16 Exclusion</text>
<path d="M477.00,164.8 H510.20" stroke="#1010fb" stroke-width="2.15" fill="none"/>
<text x="515.00" y="168.10" font-size="10.6">SM</text>
<path d="M477.00,181.9 H509.10" stroke="#dc1a6e" stroke-width="2.15" stroke-dasharray="5.0 1.55" fill="none"/>
<path d="M522.39,179.00 C521.45,177.60 518.96,177.60 517.50,179.00 C515.42,180.80 514.80,183.40 516.46,184.30 C518.12,185.20 520.72,183.60 521.56,181.20 L518.96,181.50 M521.56,181.20 C521.14,183.60 519.89,186.30 517.60,186.40 C516.25,186.40 515.42,185.90 515.32,185.10" fill="none" stroke="#111" stroke-width="0.85" stroke-linecap="round" stroke-linejoin="round"/>
<path d="M519.16,181.50 L521.56,181.20 C521.35,182.40 520.83,183.40 520.31,184.20" fill="none" stroke="#111" stroke-width="1.3" stroke-linecap="round" stroke-linejoin="round"/>
<text x="522.60" y="186.10" font-size="7.3" font-style="italic">S</text>
<text x="530.50" y="184.90" font-size="10.5">= 29.2</text>
<path d="M477.00,199.0 H509.10" stroke="#ff8000" stroke-width="2.15" stroke-dasharray="2.6 1.6 4.9 1.6" fill="none"/>
<path d="M522.39,196.10 C521.45,194.70 518.96,194.70 517.50,196.10 C515.42,197.90 514.80,200.50 516.46,201.40 C518.12,202.30 520.72,200.70 521.56,198.30 L518.96,198.60 M521.56,198.30 C521.14,200.70 519.89,203.40 517.60,203.50 C516.25,203.50 515.42,203.00 515.32,202.20" fill="none" stroke="#111" stroke-width="0.85" stroke-linecap="round" stroke-linejoin="round"/>
<path d="M519.16,198.60 L521.56,198.30 C521.35,199.50 520.83,200.50 520.31,201.30" fill="none" stroke="#111" stroke-width="1.3" stroke-linecap="round" stroke-linejoin="round"/>
<text x="522.60" y="203.20" font-size="7.3" font-style="italic">S</text>
<text x="530.50" y="202.00" font-size="10.5">= 52.3</text>
<path d="M477.00,216.0 H509.10" stroke="#800080" stroke-width="2.15" stroke-dasharray="2.6 1.52" fill="none"/>
<path d="M522.39,213.10 C521.45,211.70 518.96,211.70 517.50,213.10 C515.42,214.90 514.80,217.50 516.46,218.40 C518.12,219.30 520.72,217.70 521.56,215.30 L518.96,215.60 M521.56,215.30 C521.14,217.70 519.89,220.40 517.60,220.50 C516.25,220.50 515.42,220.00 515.32,219.20" fill="none" stroke="#111" stroke-width="0.85" stroke-linecap="round" stroke-linejoin="round"/>
<path d="M519.16,215.60 L521.56,215.30 C521.35,216.50 520.83,217.50 520.31,218.30" fill="none" stroke="#111" stroke-width="1.3" stroke-linecap="round" stroke-linejoin="round"/>
<text x="522.60" y="220.20" font-size="7.3" font-style="italic">S</text>
<text x="530.50" y="219.00" font-size="10.5">= 82.8</text>
</g>
</svg>
</body></html>
